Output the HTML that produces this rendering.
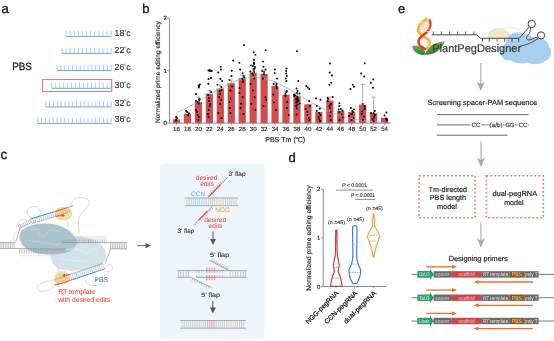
<!DOCTYPE html><html><head><meta charset="utf-8"><style>html,body{margin:0;padding:0;background:#fff;width:554px;height:341px;overflow:hidden}svg{display:block;font-family:"Liberation Sans",sans-serif;filter:blur(0.3px);text-rendering:geometricPrecision}</style></head><body><svg width="554" height="341" viewBox="0 0 554 341"><text x="1.6" y="13.3" font-size="13.2" fill="#111" stroke="#111" stroke-width="0.32" text-anchor="start" >a</text><text x="142.2" y="13.1" font-size="13.0" fill="#111" stroke="#111" stroke-width="0.32" text-anchor="start" >b</text><text x="0.6" y="158.5" font-size="13.5" fill="#111" stroke="#111" stroke-width="0.32" text-anchor="start" >c</text><text x="288.4" y="161.8" font-size="13.0" fill="#111" stroke="#111" stroke-width="0.32" text-anchor="start" >d</text><text x="397.9" y="13.0" font-size="12.8" fill="#111" stroke="#111" stroke-width="0.32" text-anchor="start" >e</text><text x="12.3" y="69.7" font-size="10.5" fill="#222" stroke="#222" stroke-width="0.32" text-anchor="start" textLength="19.6" lengthAdjust="spacingAndGlyphs" >PBS</text><line x1="66" y1="36.6" x2="111.2" y2="36.6" stroke="#5b9bd5" stroke-width="0.9"/><line x1="66.00" y1="31.0" x2="66.00" y2="36.6" stroke="#8fb8df" stroke-width="0.7"/><line x1="70.11" y1="31.0" x2="70.11" y2="36.6" stroke="#8fb8df" stroke-width="0.7"/><line x1="74.22" y1="31.0" x2="74.22" y2="36.6" stroke="#8fb8df" stroke-width="0.7"/><line x1="78.33" y1="31.0" x2="78.33" y2="36.6" stroke="#8fb8df" stroke-width="0.7"/><line x1="82.44" y1="31.0" x2="82.44" y2="36.6" stroke="#8fb8df" stroke-width="0.7"/><line x1="86.55" y1="31.0" x2="86.55" y2="36.6" stroke="#8fb8df" stroke-width="0.7"/><line x1="90.65" y1="31.0" x2="90.65" y2="36.6" stroke="#8fb8df" stroke-width="0.7"/><line x1="94.76" y1="31.0" x2="94.76" y2="36.6" stroke="#8fb8df" stroke-width="0.7"/><line x1="98.87" y1="31.0" x2="98.87" y2="36.6" stroke="#8fb8df" stroke-width="0.7"/><line x1="102.98" y1="31.0" x2="102.98" y2="36.6" stroke="#8fb8df" stroke-width="0.7"/><line x1="107.09" y1="31.0" x2="107.09" y2="36.6" stroke="#8fb8df" stroke-width="0.7"/><line x1="111.20" y1="31.0" x2="111.20" y2="36.6" stroke="#8fb8df" stroke-width="0.7"/><text x="114.6" y="36.2" font-size="8.7" fill="#222" stroke="#222" stroke-width="0.1" text-anchor="start" >18</text><circle cx="125.1" cy="30.60" r="0.8" fill="none" stroke="#666" stroke-width="0.55"/><text x="126.3" y="36.2" font-size="8.7" fill="#222" stroke="#222" stroke-width="0.1" text-anchor="start" >c</text><line x1="62" y1="53.4" x2="111.2" y2="53.4" stroke="#5b9bd5" stroke-width="0.9"/><line x1="62.00" y1="47.8" x2="62.00" y2="53.4" stroke="#8fb8df" stroke-width="0.7"/><line x1="66.10" y1="47.8" x2="66.10" y2="53.4" stroke="#8fb8df" stroke-width="0.7"/><line x1="70.20" y1="47.8" x2="70.20" y2="53.4" stroke="#8fb8df" stroke-width="0.7"/><line x1="74.30" y1="47.8" x2="74.30" y2="53.4" stroke="#8fb8df" stroke-width="0.7"/><line x1="78.40" y1="47.8" x2="78.40" y2="53.4" stroke="#8fb8df" stroke-width="0.7"/><line x1="82.50" y1="47.8" x2="82.50" y2="53.4" stroke="#8fb8df" stroke-width="0.7"/><line x1="86.60" y1="47.8" x2="86.60" y2="53.4" stroke="#8fb8df" stroke-width="0.7"/><line x1="90.70" y1="47.8" x2="90.70" y2="53.4" stroke="#8fb8df" stroke-width="0.7"/><line x1="94.80" y1="47.8" x2="94.80" y2="53.4" stroke="#8fb8df" stroke-width="0.7"/><line x1="98.90" y1="47.8" x2="98.90" y2="53.4" stroke="#8fb8df" stroke-width="0.7"/><line x1="103.00" y1="47.8" x2="103.00" y2="53.4" stroke="#8fb8df" stroke-width="0.7"/><line x1="107.10" y1="47.8" x2="107.10" y2="53.4" stroke="#8fb8df" stroke-width="0.7"/><line x1="111.20" y1="47.8" x2="111.20" y2="53.4" stroke="#8fb8df" stroke-width="0.7"/><text x="114.6" y="53.0" font-size="8.7" fill="#222" stroke="#222" stroke-width="0.1" text-anchor="start" >22</text><circle cx="125.1" cy="47.40" r="0.8" fill="none" stroke="#666" stroke-width="0.55"/><text x="126.3" y="53.0" font-size="8.7" fill="#222" stroke="#222" stroke-width="0.1" text-anchor="start" >c</text><line x1="57" y1="70.5" x2="111.2" y2="70.5" stroke="#5b9bd5" stroke-width="0.9"/><line x1="57.00" y1="64.9" x2="57.00" y2="70.5" stroke="#8fb8df" stroke-width="0.7"/><line x1="60.87" y1="64.9" x2="60.87" y2="70.5" stroke="#8fb8df" stroke-width="0.7"/><line x1="64.74" y1="64.9" x2="64.74" y2="70.5" stroke="#8fb8df" stroke-width="0.7"/><line x1="68.61" y1="64.9" x2="68.61" y2="70.5" stroke="#8fb8df" stroke-width="0.7"/><line x1="72.49" y1="64.9" x2="72.49" y2="70.5" stroke="#8fb8df" stroke-width="0.7"/><line x1="76.36" y1="64.9" x2="76.36" y2="70.5" stroke="#8fb8df" stroke-width="0.7"/><line x1="80.23" y1="64.9" x2="80.23" y2="70.5" stroke="#8fb8df" stroke-width="0.7"/><line x1="84.10" y1="64.9" x2="84.10" y2="70.5" stroke="#8fb8df" stroke-width="0.7"/><line x1="87.97" y1="64.9" x2="87.97" y2="70.5" stroke="#8fb8df" stroke-width="0.7"/><line x1="91.84" y1="64.9" x2="91.84" y2="70.5" stroke="#8fb8df" stroke-width="0.7"/><line x1="95.71" y1="64.9" x2="95.71" y2="70.5" stroke="#8fb8df" stroke-width="0.7"/><line x1="99.59" y1="64.9" x2="99.59" y2="70.5" stroke="#8fb8df" stroke-width="0.7"/><line x1="103.46" y1="64.9" x2="103.46" y2="70.5" stroke="#8fb8df" stroke-width="0.7"/><line x1="107.33" y1="64.9" x2="107.33" y2="70.5" stroke="#8fb8df" stroke-width="0.7"/><line x1="111.20" y1="64.9" x2="111.20" y2="70.5" stroke="#8fb8df" stroke-width="0.7"/><text x="114.6" y="70.3" font-size="8.7" fill="#222" stroke="#222" stroke-width="0.1" text-anchor="start" >26</text><circle cx="125.1" cy="64.70" r="0.8" fill="none" stroke="#666" stroke-width="0.55"/><text x="126.3" y="70.3" font-size="8.7" fill="#222" stroke="#222" stroke-width="0.1" text-anchor="start" >c</text><line x1="51.8" y1="88.3" x2="111.2" y2="88.3" stroke="#5b9bd5" stroke-width="0.9"/><line x1="51.80" y1="82.7" x2="51.80" y2="88.3" stroke="#8fb8df" stroke-width="0.7"/><line x1="55.76" y1="82.7" x2="55.76" y2="88.3" stroke="#8fb8df" stroke-width="0.7"/><line x1="59.72" y1="82.7" x2="59.72" y2="88.3" stroke="#8fb8df" stroke-width="0.7"/><line x1="63.68" y1="82.7" x2="63.68" y2="88.3" stroke="#8fb8df" stroke-width="0.7"/><line x1="67.64" y1="82.7" x2="67.64" y2="88.3" stroke="#8fb8df" stroke-width="0.7"/><line x1="71.60" y1="82.7" x2="71.60" y2="88.3" stroke="#8fb8df" stroke-width="0.7"/><line x1="75.56" y1="82.7" x2="75.56" y2="88.3" stroke="#8fb8df" stroke-width="0.7"/><line x1="79.52" y1="82.7" x2="79.52" y2="88.3" stroke="#8fb8df" stroke-width="0.7"/><line x1="83.48" y1="82.7" x2="83.48" y2="88.3" stroke="#8fb8df" stroke-width="0.7"/><line x1="87.44" y1="82.7" x2="87.44" y2="88.3" stroke="#8fb8df" stroke-width="0.7"/><line x1="91.40" y1="82.7" x2="91.40" y2="88.3" stroke="#8fb8df" stroke-width="0.7"/><line x1="95.36" y1="82.7" x2="95.36" y2="88.3" stroke="#8fb8df" stroke-width="0.7"/><line x1="99.32" y1="82.7" x2="99.32" y2="88.3" stroke="#8fb8df" stroke-width="0.7"/><line x1="103.28" y1="82.7" x2="103.28" y2="88.3" stroke="#8fb8df" stroke-width="0.7"/><line x1="107.24" y1="82.7" x2="107.24" y2="88.3" stroke="#8fb8df" stroke-width="0.7"/><line x1="111.20" y1="82.7" x2="111.20" y2="88.3" stroke="#8fb8df" stroke-width="0.7"/><text x="114.6" y="88.0" font-size="8.7" fill="#222" stroke="#222" stroke-width="0.1" text-anchor="start" >30</text><circle cx="125.1" cy="82.40" r="0.8" fill="none" stroke="#666" stroke-width="0.55"/><text x="126.3" y="88.0" font-size="8.7" fill="#222" stroke="#222" stroke-width="0.1" text-anchor="start" >c</text><line x1="45.7" y1="106.9" x2="111.2" y2="106.9" stroke="#5b9bd5" stroke-width="0.9"/><line x1="45.70" y1="101.30000000000001" x2="45.70" y2="106.9" stroke="#8fb8df" stroke-width="0.7"/><line x1="49.55" y1="101.30000000000001" x2="49.55" y2="106.9" stroke="#8fb8df" stroke-width="0.7"/><line x1="53.41" y1="101.30000000000001" x2="53.41" y2="106.9" stroke="#8fb8df" stroke-width="0.7"/><line x1="57.26" y1="101.30000000000001" x2="57.26" y2="106.9" stroke="#8fb8df" stroke-width="0.7"/><line x1="61.11" y1="101.30000000000001" x2="61.11" y2="106.9" stroke="#8fb8df" stroke-width="0.7"/><line x1="64.96" y1="101.30000000000001" x2="64.96" y2="106.9" stroke="#8fb8df" stroke-width="0.7"/><line x1="68.82" y1="101.30000000000001" x2="68.82" y2="106.9" stroke="#8fb8df" stroke-width="0.7"/><line x1="72.67" y1="101.30000000000001" x2="72.67" y2="106.9" stroke="#8fb8df" stroke-width="0.7"/><line x1="76.52" y1="101.30000000000001" x2="76.52" y2="106.9" stroke="#8fb8df" stroke-width="0.7"/><line x1="80.38" y1="101.30000000000001" x2="80.38" y2="106.9" stroke="#8fb8df" stroke-width="0.7"/><line x1="84.23" y1="101.30000000000001" x2="84.23" y2="106.9" stroke="#8fb8df" stroke-width="0.7"/><line x1="88.08" y1="101.30000000000001" x2="88.08" y2="106.9" stroke="#8fb8df" stroke-width="0.7"/><line x1="91.94" y1="101.30000000000001" x2="91.94" y2="106.9" stroke="#8fb8df" stroke-width="0.7"/><line x1="95.79" y1="101.30000000000001" x2="95.79" y2="106.9" stroke="#8fb8df" stroke-width="0.7"/><line x1="99.64" y1="101.30000000000001" x2="99.64" y2="106.9" stroke="#8fb8df" stroke-width="0.7"/><line x1="103.49" y1="101.30000000000001" x2="103.49" y2="106.9" stroke="#8fb8df" stroke-width="0.7"/><line x1="107.35" y1="101.30000000000001" x2="107.35" y2="106.9" stroke="#8fb8df" stroke-width="0.7"/><line x1="111.20" y1="101.30000000000001" x2="111.20" y2="106.9" stroke="#8fb8df" stroke-width="0.7"/><text x="114.6" y="105.5" font-size="8.7" fill="#222" stroke="#222" stroke-width="0.1" text-anchor="start" >32</text><circle cx="125.1" cy="99.90" r="0.8" fill="none" stroke="#666" stroke-width="0.55"/><text x="126.3" y="105.5" font-size="8.7" fill="#222" stroke="#222" stroke-width="0.1" text-anchor="start" >c</text><line x1="37.7" y1="123.4" x2="111.2" y2="123.4" stroke="#5b9bd5" stroke-width="0.9"/><line x1="37.70" y1="117.80000000000001" x2="37.70" y2="123.4" stroke="#8fb8df" stroke-width="0.7"/><line x1="41.57" y1="117.80000000000001" x2="41.57" y2="123.4" stroke="#8fb8df" stroke-width="0.7"/><line x1="45.44" y1="117.80000000000001" x2="45.44" y2="123.4" stroke="#8fb8df" stroke-width="0.7"/><line x1="49.31" y1="117.80000000000001" x2="49.31" y2="123.4" stroke="#8fb8df" stroke-width="0.7"/><line x1="53.17" y1="117.80000000000001" x2="53.17" y2="123.4" stroke="#8fb8df" stroke-width="0.7"/><line x1="57.04" y1="117.80000000000001" x2="57.04" y2="123.4" stroke="#8fb8df" stroke-width="0.7"/><line x1="60.91" y1="117.80000000000001" x2="60.91" y2="123.4" stroke="#8fb8df" stroke-width="0.7"/><line x1="64.78" y1="117.80000000000001" x2="64.78" y2="123.4" stroke="#8fb8df" stroke-width="0.7"/><line x1="68.65" y1="117.80000000000001" x2="68.65" y2="123.4" stroke="#8fb8df" stroke-width="0.7"/><line x1="72.52" y1="117.80000000000001" x2="72.52" y2="123.4" stroke="#8fb8df" stroke-width="0.7"/><line x1="76.38" y1="117.80000000000001" x2="76.38" y2="123.4" stroke="#8fb8df" stroke-width="0.7"/><line x1="80.25" y1="117.80000000000001" x2="80.25" y2="123.4" stroke="#8fb8df" stroke-width="0.7"/><line x1="84.12" y1="117.80000000000001" x2="84.12" y2="123.4" stroke="#8fb8df" stroke-width="0.7"/><line x1="87.99" y1="117.80000000000001" x2="87.99" y2="123.4" stroke="#8fb8df" stroke-width="0.7"/><line x1="91.86" y1="117.80000000000001" x2="91.86" y2="123.4" stroke="#8fb8df" stroke-width="0.7"/><line x1="95.73" y1="117.80000000000001" x2="95.73" y2="123.4" stroke="#8fb8df" stroke-width="0.7"/><line x1="99.59" y1="117.80000000000001" x2="99.59" y2="123.4" stroke="#8fb8df" stroke-width="0.7"/><line x1="103.46" y1="117.80000000000001" x2="103.46" y2="123.4" stroke="#8fb8df" stroke-width="0.7"/><line x1="107.33" y1="117.80000000000001" x2="107.33" y2="123.4" stroke="#8fb8df" stroke-width="0.7"/><line x1="111.20" y1="117.80000000000001" x2="111.20" y2="123.4" stroke="#8fb8df" stroke-width="0.7"/><text x="114.6" y="122.4" font-size="8.7" fill="#222" stroke="#222" stroke-width="0.1" text-anchor="start" >36</text><circle cx="125.1" cy="116.80" r="0.8" fill="none" stroke="#666" stroke-width="0.55"/><text x="126.3" y="122.4" font-size="8.7" fill="#222" stroke="#222" stroke-width="0.1" text-anchor="start" >c</text><rect x="42.4" y="79.6" width="69.4" height="11.8" fill="none" stroke="#dd6464" stroke-width="0.9"/><line x1="169.5" y1="18.2" x2="169.5" y2="123.1" stroke="#777" stroke-width="0.85"/><line x1="169.5" y1="123.1" x2="391" y2="123.1" stroke="#777" stroke-width="0.85"/><line x1="167.0" y1="123.10" x2="169.5" y2="123.10" stroke="#666" stroke-width="0.6"/><text x="166.8" y="125.19999999999999" font-size="6.0" fill="#222" stroke="#222" stroke-width="0.15" text-anchor="end" >0</text><line x1="167.0" y1="70.65" x2="169.5" y2="70.65" stroke="#666" stroke-width="0.6"/><text x="166.8" y="72.74999999999999" font-size="6.0" fill="#222" stroke="#222" stroke-width="0.15" text-anchor="end" >1</text><line x1="167.0" y1="18.20" x2="169.5" y2="18.20" stroke="#666" stroke-width="0.6"/><text x="166.8" y="20.29999999999999" font-size="6.0" fill="#222" stroke="#222" stroke-width="0.15" text-anchor="end" >2</text><text transform="translate(159.8,72.15) rotate(-90)" font-size="6.5" fill="#222" stroke="#222" stroke-width="0.15" text-anchor="middle" textLength="101.9" lengthAdjust="spacingAndGlyphs">Normalized prime editing efficiency</text><rect x="172.90" y="119.43" width="7.2" height="3.67" fill="#d24d4e"/><line x1="176.50" y1="123.1" x2="176.50" y2="125.1" stroke="#666" stroke-width="0.6"/><text x="176.5" y="131.3" font-size="6.1" fill="#222" stroke="#222" stroke-width="0.15" text-anchor="middle" >16</text><rect x="183.85" y="113.66" width="7.2" height="9.44" fill="#d24d4e"/><line x1="187.45" y1="123.1" x2="187.45" y2="125.1" stroke="#666" stroke-width="0.6"/><text x="187.45" y="131.3" font-size="6.1" fill="#222" stroke="#222" stroke-width="0.15" text-anchor="middle" >18</text><rect x="194.80" y="102.12" width="7.2" height="20.98" fill="#d24d4e"/><line x1="198.40" y1="123.1" x2="198.40" y2="125.1" stroke="#666" stroke-width="0.6"/><text x="198.4" y="131.3" font-size="6.1" fill="#222" stroke="#222" stroke-width="0.15" text-anchor="middle" >20</text><rect x="205.75" y="93.73" width="7.2" height="29.37" fill="#d24d4e"/><line x1="209.35" y1="123.1" x2="209.35" y2="125.1" stroke="#666" stroke-width="0.6"/><text x="209.35" y="131.3" font-size="6.1" fill="#222" stroke="#222" stroke-width="0.15" text-anchor="middle" >22</text><rect x="216.70" y="88.48" width="7.2" height="34.62" fill="#d24d4e"/><line x1="220.30" y1="123.1" x2="220.30" y2="125.1" stroke="#666" stroke-width="0.6"/><text x="220.3" y="131.3" font-size="6.1" fill="#222" stroke="#222" stroke-width="0.15" text-anchor="middle" >24</text><rect x="227.65" y="83.24" width="7.2" height="39.86" fill="#d24d4e"/><line x1="231.25" y1="123.1" x2="231.25" y2="125.1" stroke="#666" stroke-width="0.6"/><text x="231.25" y="131.3" font-size="6.1" fill="#222" stroke="#222" stroke-width="0.15" text-anchor="middle" >26</text><rect x="238.60" y="77.99" width="7.2" height="45.11" fill="#d24d4e"/><line x1="242.20" y1="123.1" x2="242.20" y2="125.1" stroke="#666" stroke-width="0.6"/><text x="242.2" y="131.3" font-size="6.1" fill="#222" stroke="#222" stroke-width="0.15" text-anchor="middle" >28</text><rect x="249.55" y="72.75" width="7.2" height="50.35" fill="#d24d4e"/><line x1="253.15" y1="123.1" x2="253.15" y2="125.1" stroke="#666" stroke-width="0.6"/><text x="253.14999999999998" y="131.3" font-size="6.1" fill="#222" stroke="#222" stroke-width="0.15" text-anchor="middle" >30</text><rect x="260.50" y="73.80" width="7.2" height="49.30" fill="#d24d4e"/><line x1="264.10" y1="123.1" x2="264.10" y2="125.1" stroke="#666" stroke-width="0.6"/><text x="264.1" y="131.3" font-size="6.1" fill="#222" stroke="#222" stroke-width="0.15" text-anchor="middle" >32</text><rect x="271.45" y="85.86" width="7.2" height="37.24" fill="#d24d4e"/><line x1="275.05" y1="123.1" x2="275.05" y2="125.1" stroke="#666" stroke-width="0.6"/><text x="275.05" y="131.3" font-size="6.1" fill="#222" stroke="#222" stroke-width="0.15" text-anchor="middle" >34</text><rect x="282.40" y="94.78" width="7.2" height="28.32" fill="#d24d4e"/><line x1="286.00" y1="123.1" x2="286.00" y2="125.1" stroke="#666" stroke-width="0.6"/><text x="286.0" y="131.3" font-size="6.1" fill="#222" stroke="#222" stroke-width="0.15" text-anchor="middle" >36</text><rect x="293.35" y="96.35" width="7.2" height="26.75" fill="#d24d4e"/><line x1="296.95" y1="123.1" x2="296.95" y2="125.1" stroke="#666" stroke-width="0.6"/><text x="296.95" y="131.3" font-size="6.1" fill="#222" stroke="#222" stroke-width="0.15" text-anchor="middle" >38</text><rect x="304.30" y="104.22" width="7.2" height="18.88" fill="#d24d4e"/><line x1="307.90" y1="123.1" x2="307.90" y2="125.1" stroke="#666" stroke-width="0.6"/><text x="307.9" y="131.3" font-size="6.1" fill="#222" stroke="#222" stroke-width="0.15" text-anchor="middle" >40</text><rect x="315.25" y="112.09" width="7.2" height="11.01" fill="#d24d4e"/><line x1="318.85" y1="123.1" x2="318.85" y2="125.1" stroke="#666" stroke-width="0.6"/><text x="318.85" y="131.3" font-size="6.1" fill="#222" stroke="#222" stroke-width="0.15" text-anchor="middle" >42</text><rect x="326.20" y="100.55" width="7.2" height="22.55" fill="#d24d4e"/><line x1="329.80" y1="123.1" x2="329.80" y2="125.1" stroke="#666" stroke-width="0.6"/><text x="329.79999999999995" y="131.3" font-size="6.1" fill="#222" stroke="#222" stroke-width="0.15" text-anchor="middle" >44</text><rect x="337.15" y="111.04" width="7.2" height="12.06" fill="#d24d4e"/><line x1="340.75" y1="123.1" x2="340.75" y2="125.1" stroke="#666" stroke-width="0.6"/><text x="340.75" y="131.3" font-size="6.1" fill="#222" stroke="#222" stroke-width="0.15" text-anchor="middle" >46</text><rect x="348.10" y="112.09" width="7.2" height="11.01" fill="#d24d4e"/><line x1="351.70" y1="123.1" x2="351.70" y2="125.1" stroke="#666" stroke-width="0.6"/><text x="351.7" y="131.3" font-size="6.1" fill="#222" stroke="#222" stroke-width="0.15" text-anchor="middle" >48</text><rect x="359.05" y="104.74" width="7.2" height="18.36" fill="#d24d4e"/><line x1="362.65" y1="123.1" x2="362.65" y2="125.1" stroke="#666" stroke-width="0.6"/><text x="362.65" y="131.3" font-size="6.1" fill="#222" stroke="#222" stroke-width="0.15" text-anchor="middle" >50</text><rect x="370.00" y="113.13" width="7.2" height="9.97" fill="#d24d4e"/><line x1="373.60" y1="123.1" x2="373.60" y2="125.1" stroke="#666" stroke-width="0.6"/><text x="373.6" y="131.3" font-size="6.1" fill="#222" stroke="#222" stroke-width="0.15" text-anchor="middle" >52</text><rect x="380.95" y="117.85" width="7.2" height="5.25" fill="#d24d4e"/><line x1="384.55" y1="123.1" x2="384.55" y2="125.1" stroke="#666" stroke-width="0.6"/><text x="384.54999999999995" y="131.3" font-size="6.1" fill="#222" stroke="#222" stroke-width="0.15" text-anchor="middle" >54</text><text x="285.2" y="141.7" font-size="7.1" fill="#222" stroke="#222" stroke-width="0.15" text-anchor="middle" >PBS Tm (<tspan font-size="3.5" dy="-2.5">o</tspan><tspan dy="2.5">C)</tspan></text><polyline points="176.4,112.4 178.5,111.6 180.6,110.7 182.7,109.8 184.7,108.8 186.8,107.8 188.9,106.7 191.0,105.6 193.1,104.5 195.2,103.3 197.3,102.1 199.3,100.9 201.4,99.7 203.5,98.4 205.6,97.2 207.7,95.9 209.8,94.6 211.9,93.4 213.9,92.1 216.0,90.9 218.1,89.7 220.2,88.5 222.3,87.3 224.4,86.2 226.5,85.1 228.6,84.1 230.6,83.1 232.7,82.2 234.8,81.4 236.9,80.6 239.0,79.9 241.1,79.3 243.2,78.7 245.2,78.3 247.3,78.0 249.4,77.7 251.5,77.5 253.6,77.5 255.7,77.5 257.8,77.6 259.8,77.8 261.9,78.2 264.0,78.6 266.1,79.1 268.2,79.6 270.3,80.3 272.4,81.0 274.4,81.8 276.5,82.7 278.6,83.7 280.7,84.7 282.8,85.7 284.9,86.9 287.0,88.0 289.0,89.2 291.1,90.4 293.2,91.6 295.3,92.9 297.4,94.1 299.5,95.4 301.6,96.7 303.6,97.9 305.7,99.2 307.8,100.4 309.9,101.6 312.0,102.8 314.1,104.0 316.2,105.2 318.2,106.3 320.3,107.3 322.4,108.4 324.5,109.4 326.6,110.3 328.7,111.2 330.8,112.1 332.9,112.9 334.9,113.7 337.0,114.5 339.1,115.2 341.2,115.8 343.3,116.4 345.4,117.0 347.5,117.6 349.5,118.1 351.6,118.5 353.7,119.0 355.8,119.4 357.9,119.7 360.0,120.1 362.1,120.4 364.1,120.7 366.2,120.9 368.3,121.2 370.4,121.4 372.5,121.6 374.6,121.7 376.7,121.9 378.7,122.0 380.8,122.2 382.9,122.3 385.0,122.4" fill="none" stroke="#8aaee0" stroke-width="0.75"/><circle cx="176.14" cy="117.10" r="1.0" fill="#000"/><circle cx="177.22" cy="118.30" r="1.0" fill="#000"/><circle cx="176.18" cy="119.50" r="1.0" fill="#000"/><circle cx="176.06" cy="120.60" r="1.0" fill="#000"/><circle cx="186.15" cy="111.00" r="1.0" fill="#000"/><circle cx="187.15" cy="112.00" r="1.0" fill="#000"/><circle cx="189.01" cy="113.30" r="1.0" fill="#000"/><circle cx="188.04" cy="115.20" r="1.0" fill="#000"/><circle cx="199.85" cy="84.40" r="1.0" fill="#000"/><circle cx="198.75" cy="85.50" r="1.0" fill="#000"/><circle cx="198.95" cy="86.50" r="1.0" fill="#000"/><circle cx="198.66" cy="87.60" r="1.0" fill="#000"/><circle cx="196.07" cy="93.90" r="1.0" fill="#000"/><circle cx="199.60" cy="99.00" r="1.0" fill="#000"/><circle cx="199.11" cy="100.00" r="1.0" fill="#000"/><circle cx="199.10" cy="100.50" r="1.0" fill="#000"/><circle cx="196.03" cy="101.00" r="1.0" fill="#000"/><circle cx="195.96" cy="110.00" r="1.0" fill="#000"/><circle cx="197.15" cy="112.00" r="1.0" fill="#000"/><circle cx="197.74" cy="115.00" r="1.0" fill="#000"/><circle cx="198.83" cy="117.00" r="1.0" fill="#000"/><circle cx="198.34" cy="120.00" r="1.0" fill="#000"/><circle cx="199.13" cy="100.50" r="1.0" fill="#000"/><circle cx="197.50" cy="102.00" r="1.0" fill="#000"/><circle cx="198.83" cy="103.50" r="1.0" fill="#000"/><circle cx="209.90" cy="70.00" r="1.0" fill="#000"/><circle cx="208.42" cy="70.50" r="1.0" fill="#000"/><circle cx="211.75" cy="71.00" r="1.0" fill="#000"/><circle cx="210.13" cy="71.20" r="1.0" fill="#000"/><circle cx="211.03" cy="78.00" r="1.0" fill="#000"/><circle cx="208.48" cy="79.00" r="1.0" fill="#000"/><circle cx="208.31" cy="83.80" r="1.0" fill="#000"/><circle cx="208.87" cy="98.00" r="1.0" fill="#000"/><circle cx="209.20" cy="101.00" r="1.0" fill="#000"/><circle cx="210.23" cy="104.00" r="1.0" fill="#000"/><circle cx="209.70" cy="106.00" r="1.0" fill="#000"/><circle cx="208.72" cy="110.00" r="1.0" fill="#000"/><circle cx="208.01" cy="114.00" r="1.0" fill="#000"/><circle cx="208.62" cy="117.00" r="1.0" fill="#000"/><circle cx="211.06" cy="92.00" r="1.0" fill="#000"/><circle cx="208.22" cy="95.00" r="1.0" fill="#000"/><circle cx="220.64" cy="66.70" r="1.0" fill="#000"/><circle cx="220.90" cy="69.50" r="1.0" fill="#000"/><circle cx="218.21" cy="72.40" r="1.0" fill="#000"/><circle cx="220.37" cy="79.00" r="1.0" fill="#000"/><circle cx="222.13" cy="81.00" r="1.0" fill="#000"/><circle cx="217.50" cy="84.80" r="1.0" fill="#000"/><circle cx="219.85" cy="91.00" r="1.0" fill="#000"/><circle cx="220.15" cy="94.00" r="1.0" fill="#000"/><circle cx="219.16" cy="97.00" r="1.0" fill="#000"/><circle cx="221.00" cy="100.00" r="1.0" fill="#000"/><circle cx="220.21" cy="104.00" r="1.0" fill="#000"/><circle cx="218.25" cy="113.00" r="1.0" fill="#000"/><circle cx="221.46" cy="118.00" r="1.0" fill="#000"/><circle cx="221.24" cy="87.00" r="1.0" fill="#000"/><circle cx="221.62" cy="90.00" r="1.0" fill="#000"/><circle cx="233.27" cy="60.60" r="1.0" fill="#000"/><circle cx="231.76" cy="70.70" r="1.0" fill="#000"/><circle cx="231.42" cy="76.00" r="1.0" fill="#000"/><circle cx="229.43" cy="80.00" r="1.0" fill="#000"/><circle cx="232.11" cy="86.50" r="1.0" fill="#000"/><circle cx="230.39" cy="90.50" r="1.0" fill="#000"/><circle cx="230.62" cy="98.40" r="1.0" fill="#000"/><circle cx="229.48" cy="102.00" r="1.0" fill="#000"/><circle cx="229.90" cy="108.00" r="1.0" fill="#000"/><circle cx="230.51" cy="113.00" r="1.0" fill="#000"/><circle cx="244.00" cy="45.00" r="1.0" fill="#000"/><circle cx="239.40" cy="62.80" r="1.0" fill="#000"/><circle cx="240.16" cy="69.40" r="1.0" fill="#000"/><circle cx="242.54" cy="73.30" r="1.0" fill="#000"/><circle cx="244.22" cy="77.30" r="1.0" fill="#000"/><circle cx="243.01" cy="81.30" r="1.0" fill="#000"/><circle cx="239.54" cy="87.90" r="1.0" fill="#000"/><circle cx="239.40" cy="93.00" r="1.0" fill="#000"/><circle cx="242.70" cy="97.00" r="1.0" fill="#000"/><circle cx="241.17" cy="103.70" r="1.0" fill="#000"/><circle cx="240.63" cy="108.00" r="1.0" fill="#000"/><circle cx="243.57" cy="114.00" r="1.0" fill="#000"/><circle cx="243.74" cy="76.00" r="1.0" fill="#000"/><circle cx="242.42" cy="79.00" r="1.0" fill="#000"/><circle cx="242.54" cy="82.00" r="1.0" fill="#000"/><circle cx="253.76" cy="52.20" r="1.0" fill="#000"/><circle cx="255.38" cy="54.80" r="1.0" fill="#000"/><circle cx="254.02" cy="60.00" r="1.0" fill="#000"/><circle cx="253.88" cy="62.80" r="1.0" fill="#000"/><circle cx="253.92" cy="64.00" r="1.0" fill="#000"/><circle cx="250.95" cy="65.50" r="1.0" fill="#000"/><circle cx="254.94" cy="67.00" r="1.0" fill="#000"/><circle cx="254.49" cy="68.50" r="1.0" fill="#000"/><circle cx="253.89" cy="70.00" r="1.0" fill="#000"/><circle cx="250.39" cy="71.50" r="1.0" fill="#000"/><circle cx="252.26" cy="73.30" r="1.0" fill="#000"/><circle cx="254.33" cy="78.60" r="1.0" fill="#000"/><circle cx="250.61" cy="84.00" r="1.0" fill="#000"/><circle cx="252.89" cy="90.50" r="1.0" fill="#000"/><circle cx="254.58" cy="97.00" r="1.0" fill="#000"/><circle cx="251.31" cy="104.00" r="1.0" fill="#000"/><circle cx="255.40" cy="110.00" r="1.0" fill="#000"/><circle cx="253.92" cy="63.00" r="1.0" fill="#000"/><circle cx="252.94" cy="66.00" r="1.0" fill="#000"/><circle cx="253.60" cy="69.00" r="1.0" fill="#000"/><circle cx="254.06" cy="72.00" r="1.0" fill="#000"/><circle cx="253.32" cy="75.00" r="1.0" fill="#000"/><circle cx="265.70" cy="50.30" r="1.0" fill="#000"/><circle cx="263.17" cy="61.40" r="1.0" fill="#000"/><circle cx="263.52" cy="66.70" r="1.0" fill="#000"/><circle cx="265.56" cy="69.40" r="1.0" fill="#000"/><circle cx="264.14" cy="72.00" r="1.0" fill="#000"/><circle cx="262.87" cy="78.60" r="1.0" fill="#000"/><circle cx="265.43" cy="97.00" r="1.0" fill="#000"/><circle cx="266.15" cy="99.80" r="1.0" fill="#000"/><circle cx="263.48" cy="106.00" r="1.0" fill="#000"/><circle cx="262.17" cy="71.00" r="1.0" fill="#000"/><circle cx="263.91" cy="74.00" r="1.0" fill="#000"/><circle cx="274.84" cy="69.40" r="1.0" fill="#000"/><circle cx="274.63" cy="73.30" r="1.0" fill="#000"/><circle cx="277.02" cy="78.60" r="1.0" fill="#000"/><circle cx="273.61" cy="84.00" r="1.0" fill="#000"/><circle cx="276.81" cy="87.90" r="1.0" fill="#000"/><circle cx="273.27" cy="94.50" r="1.0" fill="#000"/><circle cx="273.95" cy="102.40" r="1.0" fill="#000"/><circle cx="275.93" cy="110.00" r="1.0" fill="#000"/><circle cx="276.63" cy="84.00" r="1.0" fill="#000"/><circle cx="276.25" cy="86.00" r="1.0" fill="#000"/><circle cx="286.48" cy="68.60" r="1.0" fill="#000"/><circle cx="286.20" cy="71.00" r="1.0" fill="#000"/><circle cx="286.21" cy="73.50" r="1.0" fill="#000"/><circle cx="286.81" cy="76.00" r="1.0" fill="#000"/><circle cx="285.75" cy="78.50" r="1.0" fill="#000"/><circle cx="286.39" cy="81.00" r="1.0" fill="#000"/><circle cx="286.80" cy="91.00" r="1.0" fill="#000"/><circle cx="286.00" cy="92.00" r="1.0" fill="#000"/><circle cx="287.07" cy="102.00" r="1.0" fill="#000"/><circle cx="286.79" cy="108.00" r="1.0" fill="#000"/><circle cx="288.80" cy="115.00" r="1.0" fill="#000"/><circle cx="286.45" cy="92.00" r="1.0" fill="#000"/><circle cx="285.40" cy="94.00" r="1.0" fill="#000"/><circle cx="285.48" cy="96.00" r="1.0" fill="#000"/><circle cx="296.93" cy="51.20" r="1.0" fill="#000"/><circle cx="298.24" cy="81.00" r="1.0" fill="#000"/><circle cx="296.48" cy="88.50" r="1.0" fill="#000"/><circle cx="297.49" cy="91.00" r="1.0" fill="#000"/><circle cx="299.52" cy="93.50" r="1.0" fill="#000"/><circle cx="294.15" cy="94.50" r="1.0" fill="#000"/><circle cx="295.38" cy="95.50" r="1.0" fill="#000"/><circle cx="297.29" cy="96.50" r="1.0" fill="#000"/><circle cx="297.51" cy="97.50" r="1.0" fill="#000"/><circle cx="297.28" cy="98.50" r="1.0" fill="#000"/><circle cx="296.35" cy="99.50" r="1.0" fill="#000"/><circle cx="297.87" cy="100.50" r="1.0" fill="#000"/><circle cx="297.34" cy="101.50" r="1.0" fill="#000"/><circle cx="296.22" cy="102.50" r="1.0" fill="#000"/><circle cx="299.75" cy="103.50" r="1.0" fill="#000"/><circle cx="297.45" cy="104.50" r="1.0" fill="#000"/><circle cx="296.17" cy="106.00" r="1.0" fill="#000"/><circle cx="296.81" cy="108.40" r="1.0" fill="#000"/><circle cx="296.63" cy="114.60" r="1.0" fill="#000"/><circle cx="296.86" cy="93.00" r="1.0" fill="#000"/><circle cx="294.15" cy="96.00" r="1.0" fill="#000"/><circle cx="296.27" cy="99.00" r="1.0" fill="#000"/><circle cx="298.36" cy="100.00" r="1.0" fill="#000"/><circle cx="306.26" cy="86.00" r="1.0" fill="#000"/><circle cx="307.81" cy="87.50" r="1.0" fill="#000"/><circle cx="309.23" cy="89.00" r="1.0" fill="#000"/><circle cx="309.10" cy="101.00" r="1.0" fill="#000"/><circle cx="309.99" cy="106.00" r="1.0" fill="#000"/><circle cx="305.52" cy="109.00" r="1.0" fill="#000"/><circle cx="307.41" cy="112.00" r="1.0" fill="#000"/><circle cx="307.42" cy="115.00" r="1.0" fill="#000"/><circle cx="308.77" cy="118.00" r="1.0" fill="#000"/><circle cx="309.43" cy="120.00" r="1.0" fill="#000"/><circle cx="316.05" cy="98.50" r="1.0" fill="#000"/><circle cx="320.37" cy="99.70" r="1.0" fill="#000"/><circle cx="316.82" cy="106.00" r="1.0" fill="#000"/><circle cx="319.81" cy="108.50" r="1.0" fill="#000"/><circle cx="316.76" cy="111.00" r="1.0" fill="#000"/><circle cx="319.10" cy="113.00" r="1.0" fill="#000"/><circle cx="320.52" cy="115.00" r="1.0" fill="#000"/><circle cx="318.64" cy="117.00" r="1.0" fill="#000"/><circle cx="319.12" cy="119.00" r="1.0" fill="#000"/><circle cx="319.97" cy="121.00" r="1.0" fill="#000"/><circle cx="330.00" cy="63.60" r="1.0" fill="#000"/><circle cx="329.68" cy="72.40" r="1.0" fill="#000"/><circle cx="331.95" cy="75.50" r="1.0" fill="#000"/><circle cx="331.27" cy="82.70" r="1.0" fill="#000"/><circle cx="329.39" cy="84.80" r="1.0" fill="#000"/><circle cx="332.60" cy="97.10" r="1.0" fill="#000"/><circle cx="328.19" cy="99.00" r="1.0" fill="#000"/><circle cx="331.08" cy="104.00" r="1.0" fill="#000"/><circle cx="329.43" cy="106.00" r="1.0" fill="#000"/><circle cx="329.99" cy="108.00" r="1.0" fill="#000"/><circle cx="330.79" cy="112.00" r="1.0" fill="#000"/><circle cx="330.11" cy="116.00" r="1.0" fill="#000"/><circle cx="330.69" cy="120.00" r="1.0" fill="#000"/><circle cx="327.66" cy="98.00" r="1.0" fill="#000"/><circle cx="327.69" cy="101.00" r="1.0" fill="#000"/><circle cx="330.66" cy="104.00" r="1.0" fill="#000"/><circle cx="339.40" cy="103.20" r="1.0" fill="#000"/><circle cx="339.31" cy="105.90" r="1.0" fill="#000"/><circle cx="338.69" cy="109.40" r="1.0" fill="#000"/><circle cx="342.52" cy="110.50" r="1.0" fill="#000"/><circle cx="341.80" cy="114.50" r="1.0" fill="#000"/><circle cx="342.81" cy="117.60" r="1.0" fill="#000"/><circle cx="339.44" cy="120.00" r="1.0" fill="#000"/><circle cx="340.75" cy="109.00" r="1.0" fill="#000"/><circle cx="339.15" cy="112.00" r="1.0" fill="#000"/><circle cx="352.77" cy="84.80" r="1.0" fill="#000"/><circle cx="353.93" cy="86.80" r="1.0" fill="#000"/><circle cx="350.45" cy="88.90" r="1.0" fill="#000"/><circle cx="353.88" cy="109.40" r="1.0" fill="#000"/><circle cx="353.08" cy="112.00" r="1.0" fill="#000"/><circle cx="351.45" cy="114.00" r="1.0" fill="#000"/><circle cx="348.94" cy="116.00" r="1.0" fill="#000"/><circle cx="353.67" cy="118.00" r="1.0" fill="#000"/><circle cx="351.57" cy="120.00" r="1.0" fill="#000"/><circle cx="350.86" cy="108.00" r="1.0" fill="#000"/><circle cx="352.26" cy="111.00" r="1.0" fill="#000"/><circle cx="352.27" cy="114.00" r="1.0" fill="#000"/><circle cx="364.75" cy="63.20" r="1.0" fill="#000"/><circle cx="361.22" cy="73.50" r="1.0" fill="#000"/><circle cx="364.24" cy="76.60" r="1.0" fill="#000"/><circle cx="364.73" cy="107.00" r="1.0" fill="#000"/><circle cx="364.68" cy="109.00" r="1.0" fill="#000"/><circle cx="362.40" cy="111.50" r="1.0" fill="#000"/><circle cx="361.61" cy="114.00" r="1.0" fill="#000"/><circle cx="364.08" cy="116.60" r="1.0" fill="#000"/><circle cx="362.81" cy="120.00" r="1.0" fill="#000"/><circle cx="362.82" cy="104.00" r="1.0" fill="#000"/><circle cx="364.64" cy="106.00" r="1.0" fill="#000"/><circle cx="373.23" cy="79.60" r="1.0" fill="#000"/><circle cx="370.80" cy="82.70" r="1.0" fill="#000"/><circle cx="373.06" cy="87.80" r="1.0" fill="#000"/><circle cx="371.00" cy="113.00" r="1.0" fill="#000"/><circle cx="374.75" cy="115.00" r="1.0" fill="#000"/><circle cx="374.04" cy="117.00" r="1.0" fill="#000"/><circle cx="372.74" cy="119.00" r="1.0" fill="#000"/><circle cx="373.59" cy="121.00" r="1.0" fill="#000"/><circle cx="374.77" cy="111.00" r="1.0" fill="#000"/><circle cx="373.71" cy="113.00" r="1.0" fill="#000"/><circle cx="386.41" cy="112.50" r="1.0" fill="#000"/><circle cx="384.46" cy="115.60" r="1.0" fill="#000"/><circle cx="386.01" cy="118.50" r="1.0" fill="#000"/><circle cx="386.64" cy="119.50" r="1.0" fill="#000"/><circle cx="386.80" cy="120.50" r="1.0" fill="#000"/><line x1="198.40" y1="97" x2="198.40" y2="103" stroke="#777" stroke-width="0.6"/><line x1="196.40" y1="97" x2="200.40" y2="97" stroke="#777" stroke-width="0.6"/><line x1="209.35" y1="90.5" x2="209.35" y2="94.5" stroke="#777" stroke-width="0.6"/><line x1="207.35" y1="90.5" x2="211.35" y2="90.5" stroke="#777" stroke-width="0.6"/><line x1="220.30" y1="85" x2="220.30" y2="89" stroke="#777" stroke-width="0.6"/><line x1="218.30" y1="85" x2="222.30" y2="85" stroke="#777" stroke-width="0.6"/><line x1="231.25" y1="80" x2="231.25" y2="84" stroke="#777" stroke-width="0.6"/><line x1="229.25" y1="80" x2="233.25" y2="80" stroke="#777" stroke-width="0.6"/><line x1="242.20" y1="75" x2="242.20" y2="78" stroke="#777" stroke-width="0.6"/><line x1="240.20" y1="75" x2="244.20" y2="75" stroke="#777" stroke-width="0.6"/><line x1="253.15" y1="69" x2="253.15" y2="73" stroke="#777" stroke-width="0.6"/><line x1="251.15" y1="69" x2="255.15" y2="69" stroke="#777" stroke-width="0.6"/><line x1="264.10" y1="70" x2="264.10" y2="74" stroke="#777" stroke-width="0.6"/><line x1="262.10" y1="70" x2="266.10" y2="70" stroke="#777" stroke-width="0.6"/><line x1="275.05" y1="82" x2="275.05" y2="86" stroke="#777" stroke-width="0.6"/><line x1="273.05" y1="82" x2="277.05" y2="82" stroke="#777" stroke-width="0.6"/><line x1="286.00" y1="91" x2="286.00" y2="95" stroke="#777" stroke-width="0.6"/><line x1="284.00" y1="91" x2="288.00" y2="91" stroke="#777" stroke-width="0.6"/><line x1="296.95" y1="93" x2="296.95" y2="96.5" stroke="#777" stroke-width="0.6"/><line x1="294.95" y1="93" x2="298.95" y2="93" stroke="#777" stroke-width="0.6"/><line x1="329.80" y1="97" x2="329.80" y2="100.5" stroke="#777" stroke-width="0.6"/><line x1="327.80" y1="97" x2="331.80" y2="97" stroke="#777" stroke-width="0.6"/><line x1="362.65" y1="84.4" x2="362.65" y2="105" stroke="#777" stroke-width="0.6"/><line x1="360.65" y1="84.4" x2="364.65" y2="84.4" stroke="#777" stroke-width="0.6"/><line x1="373.60" y1="97.1" x2="373.60" y2="113" stroke="#777" stroke-width="0.6"/><line x1="371.60" y1="97.1" x2="375.60" y2="97.1" stroke="#777" stroke-width="0.6"/><line x1="323.2" y1="189.3" x2="323.2" y2="286.5" stroke="#777" stroke-width="0.85"/><line x1="323.2" y1="286.5" x2="386.3" y2="286.5" stroke="#777" stroke-width="0.85"/><line x1="320.9" y1="286.50" x2="323.2" y2="286.50" stroke="#666" stroke-width="0.6"/><text x="320.3" y="288.6" font-size="6.0" fill="#222" stroke="#222" stroke-width="0.15" text-anchor="end" >0</text><line x1="320.9" y1="237.90" x2="323.2" y2="237.90" stroke="#666" stroke-width="0.6"/><text x="320.3" y="240.0" font-size="6.0" fill="#222" stroke="#222" stroke-width="0.15" text-anchor="end" >1</text><line x1="320.9" y1="189.30" x2="323.2" y2="189.30" stroke="#666" stroke-width="0.6"/><text x="320.3" y="191.4" font-size="6.0" fill="#222" stroke="#222" stroke-width="0.15" text-anchor="end" >2</text><text transform="translate(311.0,238.05) rotate(-90)" font-size="6.7" fill="#222" stroke="#222" stroke-width="0.15" text-anchor="middle" textLength="105.5" lengthAdjust="spacingAndGlyphs">Normalized prime editing efficiency</text><line x1="336.1" y1="286.5" x2="336.1" y2="288.5" stroke="#666" stroke-width="0.6"/><line x1="354.5" y1="286.5" x2="354.5" y2="288.5" stroke="#666" stroke-width="0.6"/><line x1="373.4" y1="286.5" x2="373.4" y2="288.5" stroke="#666" stroke-width="0.6"/><text transform="translate(339.0,293.6) rotate(-45)" font-size="6.6" fill="#222" stroke="#222" stroke-width="0.25" text-anchor="end" textLength="43.5" lengthAdjust="spacingAndGlyphs">NGG-pegRNA</text><text transform="translate(357.8,293.6) rotate(-45)" font-size="6.6" fill="#222" stroke="#222" stroke-width="0.25" text-anchor="end" textLength="43.5" lengthAdjust="spacingAndGlyphs">CCN-pegRNA</text><text transform="translate(376.6,293.6) rotate(-45)" font-size="6.6" fill="#222" stroke="#222" stroke-width="0.25" text-anchor="end" textLength="43.0" lengthAdjust="spacingAndGlyphs">dual-pegRNA</text><text x="342" y="186.9" font-size="5.4" fill="#222" stroke="#222" stroke-width="0.1" text-anchor="start" textLength="25" lengthAdjust="spacingAndGlyphs" ><tspan font-style="italic">P</tspan> &lt; 0.0001</text><line x1="336.2" y1="190.1" x2="372.9" y2="190.1" stroke="#444" stroke-width="0.6"/><text x="350.7" y="197.3" font-size="5.4" fill="#222" stroke="#222" stroke-width="0.1" text-anchor="start" textLength="24.3" lengthAdjust="spacingAndGlyphs" ><tspan font-style="italic">P</tspan> &lt; 0.0001</text><line x1="355.2" y1="199.4" x2="375" y2="199.4" stroke="#444" stroke-width="0.6"/><text x="327.9" y="223.8" font-size="5.1" fill="#222" stroke="#222" stroke-width="0.08" text-anchor="start" textLength="17.1" lengthAdjust="spacingAndGlyphs" >(n =45)</text><text x="346.9" y="220.8" font-size="5.1" fill="#222" stroke="#222" stroke-width="0.08" text-anchor="start" textLength="17.2" lengthAdjust="spacingAndGlyphs" >(n =45)</text><text x="366" y="210.4" font-size="5.1" fill="#222" stroke="#222" stroke-width="0.08" text-anchor="start" textLength="16.8" lengthAdjust="spacingAndGlyphs" >(n =45)</text><polygon points="335.70,230.10 335.60,240.00 335.50,250.00 335.20,256.00 334.30,260.00 333.40,265.00 333.80,268.00 334.50,271.50 332.90,275.00 331.70,279.00 331.00,283.00 330.50,286.20 342.10,286.20 341.60,283.00 340.90,279.00 339.70,275.00 338.10,271.50 338.80,268.00 339.20,265.00 338.30,260.00 337.40,256.00 337.10,250.00 337.00,240.00 336.90,230.10" fill="none" stroke="#c8393d" stroke-width="1.15" stroke-linejoin="round"/><line x1="334.50" y1="267.4" x2="338.10" y2="267.4" stroke="#444" stroke-width="0.6" stroke-dasharray="0.8,0.8"/><line x1="333.00" y1="278.0" x2="339.60" y2="278.0" stroke="#444" stroke-width="0.6" stroke-dasharray="0.8,0.8"/><polygon points="353.60,225.70 352.70,226.60 352.60,232.00 352.80,245.00 352.90,255.00 352.50,260.00 351.50,264.00 350.20,267.00 348.90,270.00 349.20,274.00 350.20,278.00 351.50,281.00 352.80,283.50 356.80,283.50 358.10,281.00 359.40,278.00 360.40,274.00 360.70,270.00 359.40,267.00 358.10,264.00 357.10,260.00 356.70,255.00 356.80,245.00 357.00,232.00 356.90,226.60 356.00,225.70" fill="none" stroke="#3b7ac4" stroke-width="1.15" stroke-linejoin="round"/><line x1="354.20" y1="244.5" x2="355.40" y2="244.5" stroke="#444" stroke-width="0.6" stroke-dasharray="0.8,0.8"/><line x1="352.80" y1="264.1" x2="356.80" y2="264.1" stroke="#444" stroke-width="0.6" stroke-dasharray="0.8,0.8"/><line x1="350.40" y1="272.4" x2="359.20" y2="272.4" stroke="#444" stroke-width="0.6" stroke-dasharray="0.8,0.8"/><polygon points="373.30,213.70 372.90,218.00 372.30,221.00 372.70,224.00 372.10,227.00 370.40,230.00 367.20,236.20 369.10,241.00 370.80,246.00 372.00,251.00 372.80,255.00 373.30,257.20 373.90,257.20 374.40,255.00 375.20,251.00 376.40,246.00 378.10,241.00 380.00,236.20 376.80,230.00 375.10,227.00 374.50,224.00 374.90,221.00 374.30,218.00 373.90,213.70" fill="none" stroke="#f0a040" stroke-width="1.15" stroke-linejoin="round"/><line x1="369.60" y1="235.3" x2="377.60" y2="235.3" stroke="#444" stroke-width="0.6" stroke-dasharray="0.8,0.8"/><line x1="370.60" y1="241" x2="376.60" y2="241" stroke="#444" stroke-width="0.6" stroke-dasharray="0.8,0.8"/><path d="M487.4,38.3 C487.4,31 493,28 499,28 C505,28 510.4,31 510.4,38.3 Z" fill="#f3e6c4"/><path d="M503,28.5 C509,26.5 516,27.5 521,31" fill="none" stroke="#f1e2c8" stroke-width="0.8"/><path d="M503,58 C499,55 500,46 506,43 C505,36 512,32 520,32.6 C525,32.5 530,35 533,38 C540,36 548,40 549,46.5 C553,51 551,59 545,61 C540,65 532,65 528,62.5 C522,64.5 514,63 510,60 C507,61 504,60 503,58 Z" fill="#aacfee"/><polyline points="431.6,34.8 476.6,34.8 480.4,38.3 519.4,38.3" fill="none" stroke="#3f3f3f" stroke-width="0.95"/><line x1="433.2" y1="31.4" x2="433.2" y2="34.8" stroke="#3f3f3f" stroke-width="0.8"/><line x1="441.3" y1="31.4" x2="441.3" y2="34.8" stroke="#3f3f3f" stroke-width="0.8"/><line x1="449.5" y1="31.4" x2="449.5" y2="34.8" stroke="#3f3f3f" stroke-width="0.8"/><line x1="457.6" y1="31.4" x2="457.6" y2="34.8" stroke="#3f3f3f" stroke-width="0.8"/><line x1="465.7" y1="31.4" x2="465.7" y2="34.8" stroke="#3f3f3f" stroke-width="0.8"/><line x1="473.9" y1="31.4" x2="473.9" y2="34.8" stroke="#3f3f3f" stroke-width="0.8"/><line x1="482.5" y1="38.3" x2="482.5" y2="41.8" stroke="#3f3f3f" stroke-width="0.9"/><line x1="489.2" y1="38.3" x2="489.2" y2="41.8" stroke="#3f3f3f" stroke-width="0.9"/><line x1="497.2" y1="38.3" x2="497.2" y2="41.8" stroke="#e0503a" stroke-width="1.1"/><line x1="504.6" y1="38.3" x2="504.6" y2="41.8" stroke="#3f3f3f" stroke-width="0.9"/><line x1="512.0" y1="38.3" x2="512.0" y2="41.8" stroke="#3f3f3f" stroke-width="0.9"/><line x1="518.6" y1="38.3" x2="518.6" y2="41.8" stroke="#3f3f3f" stroke-width="0.9"/><g fill="none" stroke="#3f3f3f" stroke-width="0.95"><path d="M519.2,38.3 L529,27.2"/><path d="M530.6,27.8 C530,30.5 530.5,33 528.3,35 C525.5,37 526.3,40 529,40 C531.5,40 534,37.6 537.6,36.9"/><path d="M519,46.6 C526,45 533,42.6 538.2,38.4"/></g><circle cx="531.7" cy="24" r="3.7" fill="#fff" stroke="#3f3f3f" stroke-width="1"/><circle cx="541.1" cy="35.4" r="3.6" fill="#fff" stroke="#3f3f3f" stroke-width="1"/><defs><linearGradient id="lg1" x1="0" y1="0" x2="0" y2="1"><stop offset="0" stop-color="#6cb24e"/><stop offset="1" stop-color="#357f35"/></linearGradient></defs><path d="M412,46.2 C418,44.2 424.5,47.5 426,54.6 C419,56 413.5,52.5 412,46.2 Z" fill="url(#lg1)"/><path d="M425.2,54.8 C427.5,46.5 435,41.6 444.8,41.5 C442,49.5 435.5,55 425.2,54.8 Z" fill="url(#lg1)"/><path d="M427.3,18.5 C421,22 417.5,27 418.3,31.5 C419,35 425,36.5 428.5,39.5 C431,42 430,46 426,49.6 L424.5,48.5 C427.5,45.5 427.5,42 425.5,40.5 C422,38 419,37 419.8,42 C420.5,45.5 423,48 425.5,49.6 C421,48 418,45.5 418.5,41.5 C419,37.5 423,35 426,33 C430.5,29.5 431,25 429,20 Z" fill="#f8dcc0"/><path d="M427.3,18.5 C421,22 417.5,27 418.3,31.5 C419,35 425,36.5 428.5,39.5 C431,42 430,46 426,49.6" fill="none" stroke="#f2b63a" stroke-width="2.6"/><path d="M429.3,19.5 C431.5,23 431,29 426,33 C421,36.5 417.5,39 418.8,43.5 C419.8,46 423,48 426,49.6" fill="none" stroke="#d8402e" stroke-width="2.4"/><line x1="420" y1="22.5" x2="429.5" y2="24.3" stroke="#fff3e8" stroke-width="0.7"/><line x1="420" y1="25" x2="429.5" y2="26.8" stroke="#fff3e8" stroke-width="0.7"/><line x1="420" y1="27.5" x2="429.5" y2="29.3" stroke="#fff3e8" stroke-width="0.7"/><line x1="420" y1="30" x2="429.5" y2="31.8" stroke="#fff3e8" stroke-width="0.7"/><line x1="420" y1="39.5" x2="429.5" y2="41.3" stroke="#fff3e8" stroke-width="0.7"/><line x1="420" y1="42" x2="429.5" y2="43.8" stroke="#fff3e8" stroke-width="0.7"/><line x1="420" y1="44.5" x2="429.5" y2="46.3" stroke="#fff3e8" stroke-width="0.7"/><text x="432.2" y="51.8" font-size="11" fill="#383838" stroke="#383838" stroke-width="0.2" textLength="89" lengthAdjust="spacingAndGlyphs">PlantPegDesigner</text><line x1="480.8" y1="62.9" x2="480.8" y2="84.5" stroke="#a8a8a8" stroke-width="1.1"/><polygon points="476.8,81.5 480.8,84.3 484.8,81.5 480.8,91.3" fill="#a8a8a8"/><line x1="481.0" y1="141.5" x2="481.0" y2="160.5" stroke="#a8a8a8" stroke-width="1.1"/><polygon points="477.0,157.5 481.0,160.3 485.0,157.5 481.0,167.3" fill="#a8a8a8"/><line x1="480.9" y1="222.3" x2="480.9" y2="241.0" stroke="#a8a8a8" stroke-width="1.1"/><polygon points="476.9,238.0 480.9,240.8 484.9,238.0 480.9,247.8" fill="#a8a8a8"/><text x="427.6" y="104.5" font-size="7.45" fill="#222" stroke="#222" stroke-width="0.16" text-anchor="start" textLength="109.6" lengthAdjust="spacingAndGlyphs" >Screening spacer-PAM sequence</text><line x1="437" y1="114.6" x2="528.4" y2="114.6" stroke="#555" stroke-width="0.9"/><line x1="437" y1="124.9" x2="470" y2="124.9" stroke="#555" stroke-width="0.9"/><line x1="437" y1="135.2" x2="507.5" y2="135.2" stroke="#555" stroke-width="0.9"/><text x="471.6" y="127.0" font-size="6.0" fill="#333" stroke="#333" stroke-width="0.14" text-anchor="start" textLength="9" lengthAdjust="spacingAndGlyphs" >CC</text><line x1="481" y1="124.9" x2="489.6" y2="124.9" stroke="#555" stroke-width="0.7"/><text x="489.6" y="127.0" font-size="6.0" fill="#333" stroke="#333" stroke-width="0.14" text-anchor="start" textLength="12.9" lengthAdjust="spacingAndGlyphs" >(a/b)</text><line x1="502.8" y1="124.9" x2="505.4" y2="124.9" stroke="#555" stroke-width="0.7"/><text x="505.5" y="127.0" font-size="6.0" fill="#333" stroke="#333" stroke-width="0.14" text-anchor="start" textLength="9" lengthAdjust="spacingAndGlyphs" >GG</text><line x1="514.7" y1="124.9" x2="518.2" y2="124.9" stroke="#555" stroke-width="0.7"/><text x="518.4" y="127.0" font-size="6.0" fill="#333" stroke="#333" stroke-width="0.14" text-anchor="start" textLength="9" lengthAdjust="spacingAndGlyphs" >CC</text><line x1="527.5" y1="124.9" x2="529" y2="124.9" stroke="#555" stroke-width="0.7"/><rect x="419.1" y="175.8" width="56.0" height="42.0" fill="none" stroke="#dc8254" stroke-width="1.6" stroke-dasharray="1.8,2.2"/><rect x="486.4" y="175.8" width="56.9" height="42.0" fill="none" stroke="#dc8254" stroke-width="1.6" stroke-dasharray="1.8,2.2"/><text x="428.6" y="191.7" font-size="7.3" fill="#222" stroke="#222" stroke-width="0.18" text-anchor="start" textLength="38.4" lengthAdjust="spacingAndGlyphs" >Tm-directed</text><text x="429.7" y="200.4" font-size="7.3" fill="#222" stroke="#222" stroke-width="0.18" text-anchor="start" textLength="36.5" lengthAdjust="spacingAndGlyphs" >PBS length</text><text x="437" y="209" font-size="7.3" fill="#222" stroke="#222" stroke-width="0.18" text-anchor="start" textLength="20" lengthAdjust="spacingAndGlyphs" >model</text><text x="492.4" y="196.1" font-size="7.4" fill="#222" stroke="#222" stroke-width="0.18" text-anchor="start" textLength="44.8" lengthAdjust="spacingAndGlyphs" >dual-pegRNA</text><text x="504.2" y="204.7" font-size="7.3" fill="#222" stroke="#222" stroke-width="0.18" text-anchor="start" textLength="19.3" lengthAdjust="spacingAndGlyphs" >model</text><text x="448.8" y="260.7" font-size="7.4" fill="#222" stroke="#222" stroke-width="0.18" text-anchor="start" textLength="59.1" lengthAdjust="spacingAndGlyphs" >Designing primers</text><line x1="411.5" y1="274.4" x2="554" y2="274.4" stroke="#555" stroke-width="0.8"/><polygon points="417.4,271.09999999999997 430,271.09999999999997 430,268.9 433.8,274.4 430,279.9 430,277.7 417.4,277.7" fill="#2f9e6a"/><text x="419.3" y="276.4" font-size="5.4" fill="#e3f2ea" stroke="#e3f2ea" stroke-width="0" text-anchor="start" textLength="10.1" lengthAdjust="spacingAndGlyphs" >OsU3</text><rect x="433.6" y="271.2" width="17.6" height="6.4" fill="#6b6b6b"/><text x="442.4" y="276.4" font-size="5.4" fill="#d0d0d0" stroke="#d0d0d0" stroke-width="0" text-anchor="middle" textLength="14.3" lengthAdjust="spacingAndGlyphs" >spacer</text><rect x="451.2" y="271.2" width="30.6" height="6.4" fill="#c8474b"/><text x="466.5" y="276.4" font-size="5.4" fill="#f2c4c4" stroke="#f2c4c4" stroke-width="0" text-anchor="middle" textLength="16.0" lengthAdjust="spacingAndGlyphs" >scaffold</text><rect x="481.8" y="271.2" width="27.6" height="6.4" fill="#6b6b6b"/><text x="495.6" y="276.4" font-size="5.4" fill="#e2e2e2" stroke="#e2e2e2" stroke-width="0" text-anchor="middle" textLength="25.3" lengthAdjust="spacingAndGlyphs" >RT template</text><rect x="509.4" y="271.2" width="14.8" height="6.4" fill="#8a5a26"/><text x="516.8" y="276.4" font-size="5.4" fill="#efcfa8" stroke="#efcfa8" stroke-width="0" text-anchor="middle" textLength="10.0" lengthAdjust="spacingAndGlyphs" >PBS</text><rect x="524.2" y="271.2" width="14.4" height="6.4" fill="#6b6b6b"/><text x="531.4000000000001" y="276.4" font-size="5.4" fill="#e2e2e2" stroke="#e2e2e2" stroke-width="0" text-anchor="middle" textLength="12.6" lengthAdjust="spacingAndGlyphs" >poly T</text><line x1="426.3" y1="266.79999999999995" x2="453.5" y2="266.79999999999995" stroke="#e8702a" stroke-width="1.3"/><polygon points="452,264.79999999999995 457,266.79999999999995 452,268.79999999999995" fill="#e8702a"/><line x1="477" y1="282.0" x2="533" y2="282.0" stroke="#e8702a" stroke-width="1.3"/><polygon points="478.5,280.0 473.7,282.0 478.5,284.0" fill="#e8702a"/><line x1="411.5" y1="297.7" x2="554" y2="297.7" stroke="#555" stroke-width="0.8"/><polygon points="417.4,294.4 430,294.4 430,292.2 433.8,297.7 430,303.2 430,301.0 417.4,301.0" fill="#2f9e6a"/><text x="419.3" y="299.7" font-size="5.4" fill="#e3f2ea" stroke="#e3f2ea" stroke-width="0" text-anchor="start" textLength="10.1" lengthAdjust="spacingAndGlyphs" >TaU3</text><rect x="433.6" y="294.5" width="17.6" height="6.4" fill="#6b6b6b"/><text x="442.4" y="299.7" font-size="5.4" fill="#d0d0d0" stroke="#d0d0d0" stroke-width="0" text-anchor="middle" textLength="14.3" lengthAdjust="spacingAndGlyphs" >spacer</text><rect x="451.2" y="294.5" width="30.6" height="6.4" fill="#c8474b"/><text x="466.5" y="299.7" font-size="5.4" fill="#f2c4c4" stroke="#f2c4c4" stroke-width="0" text-anchor="middle" textLength="16.0" lengthAdjust="spacingAndGlyphs" >scaffold</text><rect x="481.8" y="294.5" width="27.6" height="6.4" fill="#6b6b6b"/><text x="495.6" y="299.7" font-size="5.4" fill="#e2e2e2" stroke="#e2e2e2" stroke-width="0" text-anchor="middle" textLength="25.3" lengthAdjust="spacingAndGlyphs" >RT template</text><rect x="509.4" y="294.5" width="14.8" height="6.4" fill="#8a5a26"/><text x="516.8" y="299.7" font-size="5.4" fill="#efcfa8" stroke="#efcfa8" stroke-width="0" text-anchor="middle" textLength="10.0" lengthAdjust="spacingAndGlyphs" >PBS</text><rect x="524.2" y="294.5" width="14.4" height="6.4" fill="#6b6b6b"/><text x="531.4000000000001" y="299.7" font-size="5.4" fill="#e2e2e2" stroke="#e2e2e2" stroke-width="0" text-anchor="middle" textLength="12.6" lengthAdjust="spacingAndGlyphs" >poly T</text><line x1="426.3" y1="290.09999999999997" x2="453.5" y2="290.09999999999997" stroke="#e8702a" stroke-width="1.3"/><polygon points="452,288.09999999999997 457,290.09999999999997 452,292.09999999999997" fill="#e8702a"/><line x1="477" y1="305.3" x2="533" y2="305.3" stroke="#e8702a" stroke-width="1.3"/><polygon points="478.5,303.3 473.7,305.3 478.5,307.3" fill="#e8702a"/><line x1="411.5" y1="321.0" x2="554" y2="321.0" stroke="#555" stroke-width="0.8"/><polygon points="417.4,317.7 430,317.7 430,315.5 433.8,321.0 430,326.5 430,324.3 417.4,324.3" fill="#2f9e6a"/><text x="419.3" y="323.0" font-size="5.4" fill="#e3f2ea" stroke="#e3f2ea" stroke-width="0" text-anchor="start" textLength="10.1" lengthAdjust="spacingAndGlyphs" >User</text><rect x="433.6" y="317.8" width="17.6" height="6.4" fill="#6b6b6b"/><text x="442.4" y="323.0" font-size="5.4" fill="#d0d0d0" stroke="#d0d0d0" stroke-width="0" text-anchor="middle" textLength="14.3" lengthAdjust="spacingAndGlyphs" >spacer</text><rect x="451.2" y="317.8" width="30.6" height="6.4" fill="#c8474b"/><text x="466.5" y="323.0" font-size="5.4" fill="#f2c4c4" stroke="#f2c4c4" stroke-width="0" text-anchor="middle" textLength="16.0" lengthAdjust="spacingAndGlyphs" >scaffold</text><rect x="481.8" y="317.8" width="27.6" height="6.4" fill="#6b6b6b"/><text x="495.6" y="323.0" font-size="5.4" fill="#e2e2e2" stroke="#e2e2e2" stroke-width="0" text-anchor="middle" textLength="25.3" lengthAdjust="spacingAndGlyphs" >RT template</text><rect x="509.4" y="317.8" width="14.8" height="6.4" fill="#8a5a26"/><text x="516.8" y="323.0" font-size="5.4" fill="#efcfa8" stroke="#efcfa8" stroke-width="0" text-anchor="middle" textLength="10.0" lengthAdjust="spacingAndGlyphs" >PBS</text><rect x="524.2" y="317.8" width="14.4" height="6.4" fill="#6b6b6b"/><text x="531.4000000000001" y="323.0" font-size="5.4" fill="#e2e2e2" stroke="#e2e2e2" stroke-width="0" text-anchor="middle" textLength="12.6" lengthAdjust="spacingAndGlyphs" >poly T</text><line x1="426.3" y1="313.4" x2="453.5" y2="313.4" stroke="#e8702a" stroke-width="1.3"/><polygon points="452,311.4 457,313.4 452,315.4" fill="#e8702a"/><line x1="477" y1="328.6" x2="533" y2="328.6" stroke="#e8702a" stroke-width="1.3"/><polygon points="478.5,326.6 473.7,328.6 478.5,330.6" fill="#e8702a"/><rect x="160.1" y="163.8" width="104.5" height="175.5" rx="3.5" fill="#eef5fb"/><path d="M137.1,245.6 L146.5,245.6" stroke="#555" stroke-width="0.9"/><polygon points="145.6,243.0 151,245.6 145.6,248.2" fill="#555"/><line x1="184.8" y1="198.0" x2="238.3" y2="198.0" stroke="#8c8c8c" stroke-width="0.7"/><line x1="184.8" y1="205.7" x2="238.3" y2="205.7" stroke="#8c8c8c" stroke-width="0.7"/><line x1="186.94" y1="198.0" x2="186.94" y2="205.7" stroke="#b4b4b4" stroke-width="0.6"/><line x1="189.08" y1="198.0" x2="189.08" y2="205.7" stroke="#b4b4b4" stroke-width="0.6"/><line x1="191.22" y1="198.0" x2="191.22" y2="205.7" stroke="#86c0ea" stroke-width="0.6"/><line x1="193.36" y1="198.0" x2="193.36" y2="205.7" stroke="#86c0ea" stroke-width="0.6"/><line x1="195.50" y1="198.0" x2="195.50" y2="205.7" stroke="#86c0ea" stroke-width="0.6"/><line x1="197.64" y1="198.0" x2="197.64" y2="205.7" stroke="#86c0ea" stroke-width="0.6"/><line x1="199.78" y1="198.0" x2="199.78" y2="205.7" stroke="#86c0ea" stroke-width="0.6"/><line x1="201.92" y1="198.0" x2="201.92" y2="205.7" stroke="#86c0ea" stroke-width="0.6"/><line x1="204.06" y1="198.0" x2="204.06" y2="205.7" stroke="#86c0ea" stroke-width="0.6"/><line x1="206.20" y1="198.0" x2="206.20" y2="205.7" stroke="#b4b4b4" stroke-width="0.6"/><line x1="208.34" y1="198.0" x2="208.34" y2="205.7" stroke="#b4b4b4" stroke-width="0.6"/><line x1="210.48" y1="198.0" x2="210.48" y2="205.7" stroke="#b4b4b4" stroke-width="0.6"/><line x1="212.62" y1="198.0" x2="212.62" y2="205.7" stroke="#b4b4b4" stroke-width="0.6"/><line x1="214.76" y1="198.0" x2="214.76" y2="205.7" stroke="#b4b4b4" stroke-width="0.6"/><line x1="216.90" y1="198.0" x2="216.90" y2="205.7" stroke="#b4b4b4" stroke-width="0.6"/><line x1="219.04" y1="198.0" x2="219.04" y2="205.7" stroke="#f2be78" stroke-width="0.6"/><line x1="221.18" y1="198.0" x2="221.18" y2="205.7" stroke="#f2be78" stroke-width="0.6"/><line x1="223.32" y1="198.0" x2="223.32" y2="205.7" stroke="#f2be78" stroke-width="0.6"/><line x1="225.46" y1="198.0" x2="225.46" y2="205.7" stroke="#b4b4b4" stroke-width="0.6"/><line x1="227.60" y1="198.0" x2="227.60" y2="205.7" stroke="#b4b4b4" stroke-width="0.6"/><line x1="229.74" y1="198.0" x2="229.74" y2="205.7" stroke="#b4b4b4" stroke-width="0.6"/><line x1="231.88" y1="198.0" x2="231.88" y2="205.7" stroke="#b4b4b4" stroke-width="0.6"/><line x1="234.02" y1="198.0" x2="234.02" y2="205.7" stroke="#b4b4b4" stroke-width="0.6"/><line x1="236.16" y1="198.0" x2="236.16" y2="205.7" stroke="#b4b4b4" stroke-width="0.6"/><line x1="207.5" y1="198.0" x2="228.0" y2="177.0" stroke="#8c8c8c" stroke-width="0.7"/><line x1="209.14" y1="196.32" x2="220.21" y2="184.98" stroke="#e05252" stroke-width="1.2"/><line x1="209.08" y1="196.38" x2="207.36" y2="194.71" stroke="#8c8c8c" stroke-width="0.6"/><line x1="210.65" y1="194.77" x2="208.94" y2="193.09" stroke="#e05252" stroke-width="0.6"/><line x1="212.23" y1="193.15" x2="210.51" y2="191.48" stroke="#e05252" stroke-width="0.6"/><line x1="213.81" y1="191.54" x2="212.09" y2="189.86" stroke="#e05252" stroke-width="0.6"/><line x1="215.38" y1="189.92" x2="213.67" y2="188.25" stroke="#e05252" stroke-width="0.6"/><line x1="216.96" y1="188.31" x2="215.24" y2="186.63" stroke="#e05252" stroke-width="0.6"/><line x1="218.54" y1="186.69" x2="216.82" y2="185.02" stroke="#e05252" stroke-width="0.6"/><line x1="220.12" y1="185.08" x2="218.40" y2="183.40" stroke="#e05252" stroke-width="0.6"/><line x1="221.69" y1="183.46" x2="219.97" y2="181.79" stroke="#8c8c8c" stroke-width="0.6"/><line x1="223.27" y1="181.85" x2="221.55" y2="180.17" stroke="#8c8c8c" stroke-width="0.6"/><line x1="224.85" y1="180.23" x2="223.13" y2="178.55" stroke="#8c8c8c" stroke-width="0.6"/><line x1="226.42" y1="178.62" x2="224.71" y2="176.94" stroke="#8c8c8c" stroke-width="0.6"/><line x1="213.0" y1="205.7" x2="193.2" y2="225.5" stroke="#8c8c8c" stroke-width="0.7"/><line x1="207.46" y1="211.24" x2="198.74" y2="219.96" stroke="#e05252" stroke-width="1.2"/><line x1="211.35" y1="207.35" x2="213.05" y2="209.05" stroke="#8c8c8c" stroke-width="0.6"/><line x1="209.70" y1="209.00" x2="211.40" y2="210.70" stroke="#8c8c8c" stroke-width="0.6"/><line x1="208.05" y1="210.65" x2="209.75" y2="212.35" stroke="#8c8c8c" stroke-width="0.6"/><line x1="206.40" y1="212.30" x2="208.10" y2="214.00" stroke="#e05252" stroke-width="0.6"/><line x1="204.75" y1="213.95" x2="206.45" y2="215.65" stroke="#e05252" stroke-width="0.6"/><line x1="203.10" y1="215.60" x2="204.80" y2="217.30" stroke="#e05252" stroke-width="0.6"/><line x1="201.45" y1="217.25" x2="203.15" y2="218.95" stroke="#e05252" stroke-width="0.6"/><line x1="199.80" y1="218.90" x2="201.50" y2="220.60" stroke="#e05252" stroke-width="0.6"/><line x1="198.15" y1="220.55" x2="199.85" y2="222.25" stroke="#8c8c8c" stroke-width="0.6"/><line x1="196.50" y1="222.20" x2="198.20" y2="223.90" stroke="#8c8c8c" stroke-width="0.6"/><line x1="194.85" y1="223.85" x2="196.55" y2="225.55" stroke="#8c8c8c" stroke-width="0.6"/><text x="228.4" y="176.0" font-size="6.3" fill="#222" stroke="#222" stroke-width="0.06" text-anchor="start" textLength="17.2" lengthAdjust="spacingAndGlyphs" >3’ flap</text><text x="195.8" y="180.0" font-size="6.3" fill="#e05252" stroke="#e05252" stroke-width="0.06" text-anchor="start" textLength="21.6" lengthAdjust="spacingAndGlyphs" >desired</text><text x="200.3" y="185.6" font-size="6.3" fill="#e05252" stroke="#e05252" stroke-width="0.06" text-anchor="start" textLength="13.8" lengthAdjust="spacingAndGlyphs" >edits</text><text x="191.0" y="195.8" font-size="6.3" fill="#62b0e0" stroke="#62b0e0" stroke-width="0.06" text-anchor="start" textLength="14.3" lengthAdjust="spacingAndGlyphs" >CCN</text><text x="215.2" y="212.0" font-size="6.3" fill="#eaa94a" stroke="#eaa94a" stroke-width="0.06" text-anchor="start" textLength="15.0" lengthAdjust="spacingAndGlyphs" >NGG</text><text x="204.2" y="221.8" font-size="6.3" fill="#e05252" stroke="#e05252" stroke-width="0.06" text-anchor="start" textLength="22.0" lengthAdjust="spacingAndGlyphs" >desired</text><text x="208.6" y="227.7" font-size="6.3" fill="#e05252" stroke="#e05252" stroke-width="0.06" text-anchor="start" textLength="13.7" lengthAdjust="spacingAndGlyphs" >edits</text><text x="177.5" y="233.2" font-size="6.3" fill="#222" stroke="#222" stroke-width="0.06" text-anchor="start" textLength="16.8" lengthAdjust="spacingAndGlyphs" >3’ flap</text><line x1="213.0" y1="231.5" x2="213.0" y2="240" stroke="#555" stroke-width="1"/><polygon points="210.0,239 216.0,239 213.0,245" fill="#555"/><text x="209.9" y="257.0" font-size="6.3" fill="#222" stroke="#222" stroke-width="0.06" text-anchor="start" textLength="19.4" lengthAdjust="spacingAndGlyphs" >5’ flap</text><line x1="177.5" y1="270.6" x2="246.8" y2="270.6" stroke="#8c8c8c" stroke-width="0.75"/><line x1="177.5" y1="277.3" x2="190.6" y2="277.3" stroke="#8c8c8c" stroke-width="0.75"/><line x1="196" y1="277.3" x2="246.8" y2="277.3" stroke="#8c8c8c" stroke-width="0.75"/><line x1="178.20" y1="270.6" x2="178.20" y2="277.3" stroke="#b4b4b4" stroke-width="0.65"/><line x1="180.80" y1="270.6" x2="180.80" y2="277.3" stroke="#b4b4b4" stroke-width="0.65"/><line x1="183.40" y1="270.6" x2="183.40" y2="277.3" stroke="#b4b4b4" stroke-width="0.65"/><line x1="186.00" y1="270.6" x2="186.00" y2="277.3" stroke="#86c0ea" stroke-width="0.65"/><line x1="188.60" y1="270.6" x2="188.60" y2="277.3" stroke="#86c0ea" stroke-width="0.65"/><line x1="196.40" y1="270.6" x2="196.40" y2="273.0" stroke="#b4b4b4" stroke-width="0.65"/><line x1="196.40" y1="274.90000000000003" x2="196.40" y2="277.3" stroke="#b4b4b4" stroke-width="0.65"/><line x1="199.00" y1="270.6" x2="199.00" y2="273.0" stroke="#b4b4b4" stroke-width="0.65"/><line x1="199.00" y1="274.90000000000003" x2="199.00" y2="277.3" stroke="#b4b4b4" stroke-width="0.65"/><line x1="201.60" y1="270.6" x2="201.60" y2="273.0" stroke="#b4b4b4" stroke-width="0.65"/><line x1="201.60" y1="274.90000000000003" x2="201.60" y2="277.3" stroke="#b4b4b4" stroke-width="0.65"/><line x1="206.80" y1="267.40000000000003" x2="206.80" y2="272.90000000000003" stroke="#e05252" stroke-width="0.65"/><line x1="206.80" y1="275.0" x2="206.80" y2="280.3" stroke="#e05252" stroke-width="0.65"/><line x1="209.40" y1="267.40000000000003" x2="209.40" y2="272.90000000000003" stroke="#e05252" stroke-width="0.65"/><line x1="209.40" y1="275.0" x2="209.40" y2="280.3" stroke="#e05252" stroke-width="0.65"/><line x1="212.00" y1="267.40000000000003" x2="212.00" y2="272.90000000000003" stroke="#e05252" stroke-width="0.65"/><line x1="212.00" y1="275.0" x2="212.00" y2="280.3" stroke="#e05252" stroke-width="0.65"/><line x1="214.60" y1="267.40000000000003" x2="214.60" y2="272.90000000000003" stroke="#e05252" stroke-width="0.65"/><line x1="214.60" y1="275.0" x2="214.60" y2="280.3" stroke="#e05252" stroke-width="0.65"/><line x1="217.20" y1="270.6" x2="217.20" y2="273.0" stroke="#b4b4b4" stroke-width="0.65"/><line x1="217.20" y1="274.90000000000003" x2="217.20" y2="277.3" stroke="#b4b4b4" stroke-width="0.65"/><line x1="219.80" y1="270.6" x2="219.80" y2="273.0" stroke="#b4b4b4" stroke-width="0.65"/><line x1="219.80" y1="274.90000000000003" x2="219.80" y2="277.3" stroke="#b4b4b4" stroke-width="0.65"/><line x1="222.40" y1="270.6" x2="222.40" y2="273.0" stroke="#b4b4b4" stroke-width="0.65"/><line x1="222.40" y1="274.90000000000003" x2="222.40" y2="277.3" stroke="#b4b4b4" stroke-width="0.65"/><line x1="230.20" y1="270.6" x2="230.20" y2="277.3" stroke="#f2be78" stroke-width="0.65"/><line x1="232.80" y1="270.6" x2="232.80" y2="277.3" stroke="#f2be78" stroke-width="0.65"/><line x1="235.40" y1="270.6" x2="235.40" y2="277.3" stroke="#b4b4b4" stroke-width="0.65"/><line x1="238.00" y1="270.6" x2="238.00" y2="277.3" stroke="#b4b4b4" stroke-width="0.65"/><line x1="240.60" y1="270.6" x2="240.60" y2="277.3" stroke="#b4b4b4" stroke-width="0.65"/><line x1="243.20" y1="270.6" x2="243.20" y2="277.3" stroke="#b4b4b4" stroke-width="0.65"/><line x1="245.80" y1="270.6" x2="245.80" y2="277.3" stroke="#b4b4b4" stroke-width="0.65"/><line x1="229.1" y1="270.6" x2="209.5" y2="260.4" stroke="#8c8c8c" stroke-width="0.7"/><line x1="227.14" y1="269.58" x2="228.25" y2="267.45" stroke="#8c8c8c" stroke-width="0.6"/><line x1="225.18" y1="268.56" x2="226.29" y2="266.43" stroke="#8c8c8c" stroke-width="0.6"/><line x1="223.22" y1="267.54" x2="224.33" y2="265.41" stroke="#8c8c8c" stroke-width="0.6"/><line x1="221.26" y1="266.52" x2="222.37" y2="264.39" stroke="#8c8c8c" stroke-width="0.6"/><line x1="219.30" y1="265.50" x2="220.41" y2="263.37" stroke="#8c8c8c" stroke-width="0.6"/><line x1="217.34" y1="264.48" x2="218.45" y2="262.35" stroke="#8c8c8c" stroke-width="0.6"/><line x1="215.38" y1="263.46" x2="216.49" y2="261.33" stroke="#8c8c8c" stroke-width="0.6"/><line x1="213.42" y1="262.44" x2="214.53" y2="260.31" stroke="#8c8c8c" stroke-width="0.6"/><line x1="211.46" y1="261.42" x2="212.57" y2="259.29" stroke="#8c8c8c" stroke-width="0.6"/><line x1="190.6" y1="277.3" x2="211.5" y2="287.5" stroke="#8c8c8c" stroke-width="0.7"/><line x1="192.92" y1="278.43" x2="191.87" y2="280.59" stroke="#8c8c8c" stroke-width="0.6"/><line x1="195.24" y1="279.57" x2="194.19" y2="281.72" stroke="#8c8c8c" stroke-width="0.6"/><line x1="197.57" y1="280.70" x2="196.51" y2="282.86" stroke="#8c8c8c" stroke-width="0.6"/><line x1="199.89" y1="281.83" x2="198.84" y2="283.99" stroke="#8c8c8c" stroke-width="0.6"/><line x1="202.21" y1="282.97" x2="201.16" y2="285.12" stroke="#8c8c8c" stroke-width="0.6"/><line x1="204.53" y1="284.10" x2="203.48" y2="286.26" stroke="#8c8c8c" stroke-width="0.6"/><line x1="206.86" y1="285.23" x2="205.80" y2="287.39" stroke="#8c8c8c" stroke-width="0.6"/><line x1="209.18" y1="286.37" x2="208.13" y2="288.52" stroke="#8c8c8c" stroke-width="0.6"/><text x="201.2" y="297.4" font-size="6.3" fill="#222" stroke="#222" stroke-width="0.06" text-anchor="start" textLength="18.7" lengthAdjust="spacingAndGlyphs" >5’ flap</text><line x1="212.9" y1="301.1" x2="212.9" y2="308.6" stroke="#555" stroke-width="1"/><polygon points="209.9,307.6 215.9,307.6 212.9,313.6" fill="#555"/><line x1="180.0" y1="320.5" x2="246.0" y2="320.5" stroke="#8c8c8c" stroke-width="0.7"/><line x1="180.0" y1="328.2" x2="246.0" y2="328.2" stroke="#8c8c8c" stroke-width="0.7"/><line x1="182.13" y1="320.5" x2="182.13" y2="328.2" stroke="#b4b4b4" stroke-width="0.6"/><line x1="184.26" y1="320.5" x2="184.26" y2="328.2" stroke="#b4b4b4" stroke-width="0.6"/><line x1="186.39" y1="320.5" x2="186.39" y2="328.2" stroke="#b4b4b4" stroke-width="0.6"/><line x1="188.52" y1="320.5" x2="188.52" y2="328.2" stroke="#b4b4b4" stroke-width="0.6"/><line x1="190.65" y1="320.5" x2="190.65" y2="328.2" stroke="#b4b4b4" stroke-width="0.6"/><line x1="192.77" y1="320.5" x2="192.77" y2="328.2" stroke="#86c0ea" stroke-width="0.6"/><line x1="194.90" y1="320.5" x2="194.90" y2="328.2" stroke="#b4b4b4" stroke-width="0.6"/><line x1="197.03" y1="320.5" x2="197.03" y2="328.2" stroke="#b4b4b4" stroke-width="0.6"/><line x1="199.16" y1="320.5" x2="199.16" y2="328.2" stroke="#b4b4b4" stroke-width="0.6"/><line x1="201.29" y1="320.5" x2="201.29" y2="328.2" stroke="#b4b4b4" stroke-width="0.6"/><line x1="203.42" y1="320.5" x2="203.42" y2="328.2" stroke="#b4b4b4" stroke-width="0.6"/><line x1="205.55" y1="320.5" x2="205.55" y2="328.2" stroke="#b4b4b4" stroke-width="0.6"/><line x1="207.68" y1="320.5" x2="207.68" y2="328.2" stroke="#e46a6c" stroke-width="0.6"/><line x1="209.81" y1="320.5" x2="209.81" y2="328.2" stroke="#e46a6c" stroke-width="0.6"/><line x1="211.94" y1="320.5" x2="211.94" y2="328.2" stroke="#e46a6c" stroke-width="0.6"/><line x1="214.06" y1="320.5" x2="214.06" y2="328.2" stroke="#e46a6c" stroke-width="0.6"/><line x1="216.19" y1="320.5" x2="216.19" y2="328.2" stroke="#b4b4b4" stroke-width="0.6"/><line x1="218.32" y1="320.5" x2="218.32" y2="328.2" stroke="#b4b4b4" stroke-width="0.6"/><line x1="220.45" y1="320.5" x2="220.45" y2="328.2" stroke="#b4b4b4" stroke-width="0.6"/><line x1="222.58" y1="320.5" x2="222.58" y2="328.2" stroke="#b4b4b4" stroke-width="0.6"/><line x1="224.71" y1="320.5" x2="224.71" y2="328.2" stroke="#b4b4b4" stroke-width="0.6"/><line x1="226.84" y1="320.5" x2="226.84" y2="328.2" stroke="#b4b4b4" stroke-width="0.6"/><line x1="228.97" y1="320.5" x2="228.97" y2="328.2" stroke="#f2be78" stroke-width="0.6"/><line x1="231.10" y1="320.5" x2="231.10" y2="328.2" stroke="#f2be78" stroke-width="0.6"/><line x1="233.23" y1="320.5" x2="233.23" y2="328.2" stroke="#f2be78" stroke-width="0.6"/><line x1="235.35" y1="320.5" x2="235.35" y2="328.2" stroke="#b4b4b4" stroke-width="0.6"/><line x1="237.48" y1="320.5" x2="237.48" y2="328.2" stroke="#b4b4b4" stroke-width="0.6"/><line x1="239.61" y1="320.5" x2="239.61" y2="328.2" stroke="#b4b4b4" stroke-width="0.6"/><line x1="241.74" y1="320.5" x2="241.74" y2="328.2" stroke="#b4b4b4" stroke-width="0.6"/><line x1="243.87" y1="320.5" x2="243.87" y2="328.2" stroke="#b4b4b4" stroke-width="0.6"/><g fill="#fff" stroke="#c9c9c9" stroke-width="0.7"><ellipse cx="33.8" cy="212.3" rx="6.8" ry="5.8"/><path d="M16.6,227 C17,221 22,218.5 27.5,220.5" fill="none"/><path d="M70.6,205.8 C72,200 75,197.5 80,197.5 C86,197.5 90,199.5 89.2,203 C88.5,207 86,209 82,213 C78.5,217 78,222 78.5,226 C79,229 79,231 78.7,233" fill="none"/><path d="M65,220.3 C68.5,221.5 69.5,224.5 66.6,227" fill="none"/><path d="M58.5,263.5 C57.5,266.5 58,270 59.5,272" fill="none"/><path d="M54.6,280 C49,281 41,282 38,286 C36,290 41,292.5 46,291 C50,290 53,286.5 56.6,284.5" fill="none"/><path d="M104.5,269 C108,264 111,263 112.5,266.5 C113.5,270 110.5,272.5 106.5,271.5" fill="none"/><path d="M85.3,280 C86,284.5 90,286 96,285.5 C101,285 103.5,283 103.5,280" fill="none"/><path d="M16.1,231.6 C13,235 12.5,238 14.5,241" fill="none"/></g><path d="M50.2,256 C48,247 56,238 70,236.5 C84,235 98,239 104,248 C107.5,254 107,261 101,264.5 C91,269 76,272 63,270 C55,268.5 51,262 50.2,256 Z" fill="#d2e3eb"/><path d="M19.4,236 C20,229 30,224 44,223.6 C58,223.2 72,229 76.5,240 C78,248 70,254.5 50,254.7 C32,254.8 19,247 19.4,236 Z" fill="#abc5cf"/><g fill="none" stroke="#c4d6de" stroke-width="0.75"><path d="M23.8,230.5 C28,229 33,229.5 37,229.4 C39,233 41,237 43.6,237 C46,237 47,232 48,230.5 C53,230 57,231 61,231.6"/><path d="M28.2,240.4 C38,242 50,243.5 59,244.8"/></g><g fill="none" stroke="#e6eff3" stroke-width="0.75"><path d="M66,250 C72,248 80,249 84,252 C87,254 90,252 92,249 C95,247 98,251 96,256"/><path d="M60,258 C68,260 80,262 90,261"/></g><line x1="0" y1="242.6" x2="15.5" y2="242.6" stroke="#8a8a8a" stroke-width="0.65"/><line x1="0" y1="248.5" x2="15.5" y2="248.5" stroke="#8a8a8a" stroke-width="0.65"/><line x1="0.00" y1="242.6" x2="0.00" y2="248.5" stroke="#8f8f8f" stroke-width="0.55"/><line x1="1.75" y1="242.6" x2="1.75" y2="248.5" stroke="#8f8f8f" stroke-width="0.55"/><line x1="3.50" y1="242.6" x2="3.50" y2="248.5" stroke="#8f8f8f" stroke-width="0.55"/><line x1="5.25" y1="242.6" x2="5.25" y2="248.5" stroke="#8f8f8f" stroke-width="0.55"/><line x1="7.00" y1="242.6" x2="7.00" y2="248.5" stroke="#8f8f8f" stroke-width="0.55"/><line x1="8.75" y1="242.6" x2="8.75" y2="248.5" stroke="#8f8f8f" stroke-width="0.55"/><line x1="10.50" y1="242.6" x2="10.50" y2="248.5" stroke="#8f8f8f" stroke-width="0.55"/><line x1="12.25" y1="242.6" x2="12.25" y2="248.5" stroke="#8f8f8f" stroke-width="0.55"/><line x1="14.00" y1="242.6" x2="14.00" y2="248.5" stroke="#8f8f8f" stroke-width="0.55"/><line x1="110.6" y1="242.4" x2="127" y2="242.4" stroke="#8a8a8a" stroke-width="0.65"/><line x1="110.6" y1="248.9" x2="127" y2="248.9" stroke="#8a8a8a" stroke-width="0.65"/><line x1="110.60" y1="242.4" x2="110.60" y2="248.9" stroke="#8f8f8f" stroke-width="0.55"/><line x1="112.35" y1="242.4" x2="112.35" y2="248.9" stroke="#8f8f8f" stroke-width="0.55"/><line x1="114.10" y1="242.4" x2="114.10" y2="248.9" stroke="#8f8f8f" stroke-width="0.55"/><line x1="115.85" y1="242.4" x2="115.85" y2="248.9" stroke="#8f8f8f" stroke-width="0.55"/><line x1="117.60" y1="242.4" x2="117.60" y2="248.9" stroke="#8f8f8f" stroke-width="0.55"/><line x1="119.35" y1="242.4" x2="119.35" y2="248.9" stroke="#8f8f8f" stroke-width="0.55"/><line x1="121.10" y1="242.4" x2="121.10" y2="248.9" stroke="#8f8f8f" stroke-width="0.55"/><line x1="122.85" y1="242.4" x2="122.85" y2="248.9" stroke="#8f8f8f" stroke-width="0.55"/><line x1="124.60" y1="242.4" x2="124.60" y2="248.9" stroke="#8f8f8f" stroke-width="0.55"/><line x1="126.35" y1="242.4" x2="126.35" y2="248.9" stroke="#8f8f8f" stroke-width="0.55"/><polyline points="15.5,242.6 19.8,228.4" fill="none" stroke="#8a8a8a" stroke-width="0.65"/><line x1="15.5" y1="248.5" x2="65.5" y2="249.2" stroke="#8a8a8a" stroke-width="0.65"/><line x1="19.40" y1="249.2" x2="19.40" y2="253.4" stroke="#9a9a9a" stroke-width="0.55"/><line x1="21.15" y1="249.2" x2="21.15" y2="253.4" stroke="#9a9a9a" stroke-width="0.55"/><line x1="22.90" y1="249.2" x2="22.90" y2="253.4" stroke="#9a9a9a" stroke-width="0.55"/><line x1="24.65" y1="249.2" x2="24.65" y2="253.4" stroke="#9a9a9a" stroke-width="0.55"/><line x1="26.40" y1="249.2" x2="26.40" y2="253.4" stroke="#9a9a9a" stroke-width="0.55"/><line x1="28.15" y1="249.2" x2="28.15" y2="253.4" stroke="#9a9a9a" stroke-width="0.55"/><line x1="29.90" y1="249.2" x2="29.90" y2="253.4" stroke="#9a9a9a" stroke-width="0.55"/><line x1="31.65" y1="249.2" x2="31.65" y2="253.4" stroke="#9a9a9a" stroke-width="0.55"/><line x1="33.40" y1="249.2" x2="33.40" y2="253.4" stroke="#9a9a9a" stroke-width="0.55"/><line x1="35.15" y1="249.2" x2="35.15" y2="253.4" stroke="#9a9a9a" stroke-width="0.55"/><line x1="36.90" y1="249.2" x2="36.90" y2="253.4" stroke="#9a9a9a" stroke-width="0.55"/><line x1="38.65" y1="249.2" x2="38.65" y2="253.4" stroke="#9a9a9a" stroke-width="0.55"/><line x1="40.40" y1="249.2" x2="40.40" y2="253.4" stroke="#9a9a9a" stroke-width="0.55"/><line x1="42.15" y1="249.2" x2="42.15" y2="253.4" stroke="#9a9a9a" stroke-width="0.55"/><line x1="43.90" y1="249.2" x2="43.90" y2="253.4" stroke="#9a9a9a" stroke-width="0.55"/><line x1="45.65" y1="249.2" x2="45.65" y2="253.4" stroke="#9a9a9a" stroke-width="0.55"/><line x1="47.40" y1="249.2" x2="47.40" y2="253.4" stroke="#9a9a9a" stroke-width="0.55"/><line x1="49.15" y1="249.2" x2="49.15" y2="253.4" stroke="#9a9a9a" stroke-width="0.55"/><line x1="50.90" y1="249.2" x2="50.90" y2="253.4" stroke="#9a9a9a" stroke-width="0.55"/><line x1="52.65" y1="249.2" x2="52.65" y2="253.4" stroke="#9a9a9a" stroke-width="0.55"/><line x1="54.40" y1="249.2" x2="54.40" y2="253.4" stroke="#9a9a9a" stroke-width="0.55"/><line x1="56.15" y1="249.2" x2="56.15" y2="253.4" stroke="#9a9a9a" stroke-width="0.55"/><line x1="57.90" y1="249.2" x2="57.90" y2="253.4" stroke="#9a9a9a" stroke-width="0.55"/><line x1="59.65" y1="249.2" x2="59.65" y2="253.4" stroke="#9a9a9a" stroke-width="0.55"/><line x1="61.40" y1="249.2" x2="61.40" y2="253.4" stroke="#9a9a9a" stroke-width="0.55"/><line x1="63.15" y1="249.2" x2="63.15" y2="253.4" stroke="#9a9a9a" stroke-width="0.55"/><line x1="64.90" y1="249.2" x2="64.90" y2="253.4" stroke="#9a9a9a" stroke-width="0.55"/><line x1="19.4" y1="255.8" x2="65" y2="255.8" stroke="#dcdcdc" stroke-width="0.7"/><line x1="62.3" y1="242.6" x2="110.6" y2="242.6" stroke="#8a8a8a" stroke-width="0.65"/><line x1="62.30" y1="239.3" x2="62.30" y2="242.6" stroke="#9a9a9a" stroke-width="0.55"/><line x1="64.05" y1="239.3" x2="64.05" y2="242.6" stroke="#9a9a9a" stroke-width="0.55"/><line x1="65.80" y1="239.3" x2="65.80" y2="242.6" stroke="#9a9a9a" stroke-width="0.55"/><line x1="67.55" y1="239.3" x2="67.55" y2="242.6" stroke="#9a9a9a" stroke-width="0.55"/><line x1="69.30" y1="239.3" x2="69.30" y2="242.6" stroke="#9a9a9a" stroke-width="0.55"/><line x1="71.05" y1="239.3" x2="71.05" y2="242.6" stroke="#9a9a9a" stroke-width="0.55"/><line x1="72.80" y1="239.3" x2="72.80" y2="242.6" stroke="#9a9a9a" stroke-width="0.55"/><line x1="74.55" y1="239.3" x2="74.55" y2="242.6" stroke="#9a9a9a" stroke-width="0.55"/><line x1="76.30" y1="239.3" x2="76.30" y2="242.6" stroke="#9a9a9a" stroke-width="0.55"/><line x1="78.05" y1="239.3" x2="78.05" y2="242.6" stroke="#9a9a9a" stroke-width="0.55"/><line x1="79.80" y1="239.3" x2="79.80" y2="242.6" stroke="#9a9a9a" stroke-width="0.55"/><line x1="81.55" y1="239.3" x2="81.55" y2="242.6" stroke="#9a9a9a" stroke-width="0.55"/><line x1="83.30" y1="239.3" x2="83.30" y2="242.6" stroke="#9a9a9a" stroke-width="0.55"/><line x1="85.05" y1="239.3" x2="85.05" y2="242.6" stroke="#9a9a9a" stroke-width="0.55"/><line x1="86.80" y1="239.3" x2="86.80" y2="242.6" stroke="#9a9a9a" stroke-width="0.55"/><line x1="88.55" y1="239.3" x2="88.55" y2="242.6" stroke="#9a9a9a" stroke-width="0.55"/><line x1="90.30" y1="239.3" x2="90.30" y2="242.6" stroke="#9a9a9a" stroke-width="0.55"/><line x1="92.05" y1="239.3" x2="92.05" y2="242.6" stroke="#9a9a9a" stroke-width="0.55"/><line x1="93.80" y1="239.3" x2="93.80" y2="242.6" stroke="#9a9a9a" stroke-width="0.55"/><line x1="95.55" y1="239.3" x2="95.55" y2="242.6" stroke="#9a9a9a" stroke-width="0.55"/><line x1="97.30" y1="239.3" x2="97.30" y2="242.6" stroke="#9a9a9a" stroke-width="0.55"/><line x1="99.05" y1="239.3" x2="99.05" y2="242.6" stroke="#9a9a9a" stroke-width="0.55"/><line x1="100.80" y1="239.3" x2="100.80" y2="242.6" stroke="#9a9a9a" stroke-width="0.55"/><line x1="102.55" y1="239.3" x2="102.55" y2="242.6" stroke="#9a9a9a" stroke-width="0.55"/><line x1="104.30" y1="239.3" x2="104.30" y2="242.6" stroke="#9a9a9a" stroke-width="0.55"/><line x1="106.05" y1="239.3" x2="106.05" y2="242.6" stroke="#9a9a9a" stroke-width="0.55"/><line x1="77.00" y1="235.5" x2="77.00" y2="239.2" stroke="#d0d0d0" stroke-width="0.55"/><line x1="78.75" y1="235.5" x2="78.75" y2="239.2" stroke="#d0d0d0" stroke-width="0.55"/><line x1="80.50" y1="235.5" x2="80.50" y2="239.2" stroke="#d0d0d0" stroke-width="0.55"/><line x1="82.25" y1="235.5" x2="82.25" y2="239.2" stroke="#d0d0d0" stroke-width="0.55"/><line x1="84.00" y1="235.5" x2="84.00" y2="239.2" stroke="#d0d0d0" stroke-width="0.55"/><line x1="85.75" y1="235.5" x2="85.75" y2="239.2" stroke="#d0d0d0" stroke-width="0.55"/><line x1="87.50" y1="235.5" x2="87.50" y2="239.2" stroke="#d0d0d0" stroke-width="0.55"/><line x1="89.25" y1="235.5" x2="89.25" y2="239.2" stroke="#d0d0d0" stroke-width="0.55"/><line x1="91.00" y1="235.5" x2="91.00" y2="239.2" stroke="#d0d0d0" stroke-width="0.55"/><line x1="92.75" y1="235.5" x2="92.75" y2="239.2" stroke="#d0d0d0" stroke-width="0.55"/><line x1="94.50" y1="235.5" x2="94.50" y2="239.2" stroke="#d0d0d0" stroke-width="0.55"/><line x1="96.25" y1="235.5" x2="96.25" y2="239.2" stroke="#d0d0d0" stroke-width="0.55"/><line x1="98.00" y1="235.5" x2="98.00" y2="239.2" stroke="#d0d0d0" stroke-width="0.55"/><line x1="99.75" y1="235.5" x2="99.75" y2="239.2" stroke="#d0d0d0" stroke-width="0.55"/><line x1="101.50" y1="235.5" x2="101.50" y2="239.2" stroke="#d0d0d0" stroke-width="0.55"/><line x1="103.25" y1="235.5" x2="103.25" y2="239.2" stroke="#d0d0d0" stroke-width="0.55"/><line x1="105.00" y1="235.5" x2="105.00" y2="239.2" stroke="#d0d0d0" stroke-width="0.55"/><line x1="106.75" y1="235.5" x2="106.75" y2="239.2" stroke="#d0d0d0" stroke-width="0.55"/><polyline points="110.6,248.7 105.1,263.5" fill="none" stroke="#8a8a8a" stroke-width="0.65"/><line x1="19.80" y1="228.40" x2="18.00" y2="224.83" stroke="#9a9a9a" stroke-width="0.55"/><line x1="21.41" y1="227.59" x2="19.61" y2="224.01" stroke="#9a9a9a" stroke-width="0.55"/><line x1="23.03" y1="226.77" x2="21.23" y2="223.20" stroke="#9a9a9a" stroke-width="0.55"/><line x1="24.64" y1="225.96" x2="22.84" y2="222.39" stroke="#9a9a9a" stroke-width="0.55"/><line x1="26.26" y1="225.14" x2="24.46" y2="221.57" stroke="#9a9a9a" stroke-width="0.55"/><line x1="27.87" y1="224.33" x2="26.07" y2="220.76" stroke="#9a9a9a" stroke-width="0.55"/><line x1="29.49" y1="223.51" x2="27.68" y2="219.94" stroke="#9a9a9a" stroke-width="0.55"/><line x1="31.10" y1="222.70" x2="29.30" y2="219.13" stroke="#9a9a9a" stroke-width="0.55"/><line x1="19.80" y1="228.40" x2="31.10" y2="222.70" stroke="#8a8a8a" stroke-width="0.6"/><ellipse cx="63.4" cy="213.6" rx="8.9" ry="6.9" fill="#f1dd9f"/><line x1="30.50" y1="219.00" x2="31.91" y2="223.59" stroke="#8fb3d6" stroke-width="0.6"/><line x1="32.50" y1="218.38" x2="33.91" y2="222.97" stroke="#8fb3d6" stroke-width="0.6"/><line x1="34.50" y1="217.77" x2="35.91" y2="222.36" stroke="#8fb3d6" stroke-width="0.6"/><line x1="36.50" y1="217.15" x2="37.91" y2="221.74" stroke="#8fb3d6" stroke-width="0.6"/><line x1="38.50" y1="216.54" x2="39.91" y2="221.12" stroke="#8fb3d6" stroke-width="0.6"/><line x1="40.50" y1="215.92" x2="41.91" y2="220.51" stroke="#8fb3d6" stroke-width="0.6"/><line x1="42.50" y1="215.31" x2="43.91" y2="219.89" stroke="#8fb3d6" stroke-width="0.6"/><line x1="44.50" y1="214.69" x2="45.91" y2="219.28" stroke="#8fb3d6" stroke-width="0.6"/><line x1="46.50" y1="214.07" x2="47.91" y2="218.66" stroke="#8fb3d6" stroke-width="0.6"/><line x1="48.50" y1="213.46" x2="49.91" y2="218.05" stroke="#8fb3d6" stroke-width="0.6"/><line x1="50.50" y1="212.84" x2="51.91" y2="217.43" stroke="#8fb3d6" stroke-width="0.6"/><line x1="52.50" y1="212.23" x2="53.91" y2="216.81" stroke="#8fb3d6" stroke-width="0.6"/><line x1="54.50" y1="211.61" x2="55.91" y2="216.20" stroke="#eea27a" stroke-width="0.6"/><line x1="56.50" y1="210.99" x2="57.91" y2="215.58" stroke="#eea27a" stroke-width="0.6"/><line x1="58.50" y1="210.38" x2="59.91" y2="214.97" stroke="#eea27a" stroke-width="0.6"/><line x1="60.50" y1="209.76" x2="61.91" y2="214.35" stroke="#eea27a" stroke-width="0.6"/><line x1="62.50" y1="209.15" x2="63.91" y2="213.73" stroke="#eea27a" stroke-width="0.6"/><line x1="64.50" y1="208.53" x2="65.91" y2="213.12" stroke="#eea27a" stroke-width="0.6"/><line x1="66.50" y1="207.92" x2="67.91" y2="212.50" stroke="#eea27a" stroke-width="0.6"/><line x1="68.50" y1="207.30" x2="69.91" y2="211.89" stroke="#eea27a" stroke-width="0.6"/><line x1="31.91" y1="223.59" x2="69.91" y2="211.89" stroke="#8f8f8f" stroke-width="0.6"/><line x1="30.50" y1="219.00" x2="54.44" y2="211.63" stroke="#3f86c9" stroke-width="0.95"/><line x1="54.44" y1="211.63" x2="68.50" y2="207.30" stroke="#e0553a" stroke-width="0.95"/><line x1="68.5" y1="207.3" x2="73" y2="205.3" stroke="#e0553a" stroke-width="0.7"/><path d="M56.1,216.3 L62.5,215.6" stroke="#d9413f" stroke-width="0.8"/><polygon points="62,214.1 65,215.4 62,216.9" fill="#d9413f"/><ellipse cx="62.3" cy="277.7" rx="7.9" ry="6.6" fill="#f1dd9f"/><line x1="104.50" y1="269.00" x2="102.67" y2="263.50" stroke="#a9a9a9" stroke-width="0.6"/><line x1="102.58" y1="269.64" x2="100.75" y2="264.14" stroke="#a9a9a9" stroke-width="0.6"/><line x1="100.66" y1="270.28" x2="98.83" y2="264.78" stroke="#a9a9a9" stroke-width="0.6"/><line x1="98.74" y1="270.92" x2="96.91" y2="265.42" stroke="#a9a9a9" stroke-width="0.6"/><line x1="96.82" y1="271.56" x2="94.99" y2="266.06" stroke="#a9a9a9" stroke-width="0.6"/><line x1="94.90" y1="272.20" x2="93.07" y2="266.70" stroke="#8fb3d6" stroke-width="0.6"/><line x1="92.98" y1="272.84" x2="91.15" y2="267.34" stroke="#8fb3d6" stroke-width="0.6"/><line x1="91.06" y1="273.48" x2="89.23" y2="267.98" stroke="#8fb3d6" stroke-width="0.6"/><line x1="89.14" y1="274.12" x2="87.31" y2="268.62" stroke="#8fb3d6" stroke-width="0.6"/><line x1="87.22" y1="274.76" x2="85.39" y2="269.26" stroke="#8fb3d6" stroke-width="0.6"/><line x1="85.30" y1="275.40" x2="83.47" y2="269.90" stroke="#8fb3d6" stroke-width="0.6"/><line x1="83.38" y1="276.04" x2="81.55" y2="270.54" stroke="#8fb3d6" stroke-width="0.6"/><line x1="81.46" y1="276.68" x2="79.63" y2="271.18" stroke="#8fb3d6" stroke-width="0.6"/><line x1="79.54" y1="277.32" x2="77.71" y2="271.82" stroke="#8fb3d6" stroke-width="0.6"/><line x1="77.62" y1="277.96" x2="75.79" y2="272.46" stroke="#8fb3d6" stroke-width="0.6"/><line x1="75.70" y1="278.60" x2="73.87" y2="273.10" stroke="#8fb3d6" stroke-width="0.6"/><line x1="73.78" y1="279.24" x2="71.95" y2="273.74" stroke="#8fb3d6" stroke-width="0.6"/><line x1="71.86" y1="279.88" x2="70.03" y2="274.38" stroke="#eea27a" stroke-width="0.6"/><line x1="69.94" y1="280.52" x2="68.11" y2="275.02" stroke="#eea27a" stroke-width="0.6"/><line x1="68.02" y1="281.16" x2="66.19" y2="275.66" stroke="#eea27a" stroke-width="0.6"/><line x1="66.10" y1="281.80" x2="64.27" y2="276.30" stroke="#eea27a" stroke-width="0.6"/><line x1="64.18" y1="282.44" x2="62.35" y2="276.94" stroke="#eea27a" stroke-width="0.6"/><line x1="62.26" y1="283.08" x2="60.43" y2="277.58" stroke="#eea27a" stroke-width="0.6"/><line x1="60.34" y1="283.72" x2="58.51" y2="278.22" stroke="#eea27a" stroke-width="0.6"/><line x1="58.42" y1="284.36" x2="56.59" y2="278.86" stroke="#eea27a" stroke-width="0.6"/><line x1="56.50" y1="285.00" x2="54.67" y2="279.50" stroke="#eea27a" stroke-width="0.6"/><line x1="102.67" y1="263.50" x2="54.67" y2="279.50" stroke="#8f8f8f" stroke-width="0.6"/><line x1="104.50" y1="269.00" x2="96.34" y2="271.72" stroke="#8f8f8f" stroke-width="0.95"/><line x1="96.34" y1="271.72" x2="72.82" y2="279.56" stroke="#3f86c9" stroke-width="0.95"/><line x1="72.82" y1="279.56" x2="56.50" y2="285.00" stroke="#e0553a" stroke-width="0.95"/><line x1="58.5" y1="283.6" x2="54" y2="285" stroke="#e0553a" stroke-width="0.7"/><path d="M70,274.5 L64.5,275.3" stroke="#d9413f" stroke-width="0.8"/><polygon points="65,273.8 62,275.5 65,276.9" fill="#d9413f"/><text x="94.4" y="281.8" font-size="7.0" fill="#3f86c9" stroke="#3f86c9" stroke-width="0.06" text-anchor="start" textLength="13.5" lengthAdjust="spacingAndGlyphs" >PBS</text><text x="58.2" y="294.4" font-size="7.0" fill="#d9413f" stroke="#d9413f" stroke-width="0.06" text-anchor="start" textLength="37" lengthAdjust="spacingAndGlyphs" >RT template</text><text x="58.2" y="301.8" font-size="7.0" fill="#d9413f" stroke="#d9413f" stroke-width="0.06" text-anchor="start" textLength="52" lengthAdjust="spacingAndGlyphs" >with desired edits</text></svg></body></html>
